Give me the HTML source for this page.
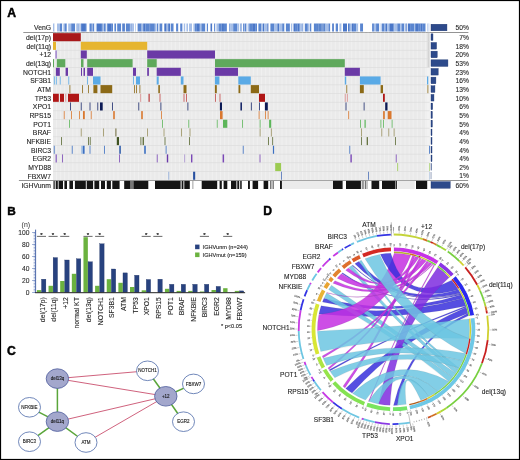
<!DOCTYPE html>
<html><head><meta charset="utf-8"><style>
html,body{margin:0;padding:0;background:#fff;}
svg{display:block;will-change:transform;}
text{font-family:"Liberation Sans", sans-serif;}
</style></head><body>
<svg width="520" height="460" viewBox="0 0 520 460">
<rect x="0" y="0" width="520" height="460" fill="#fff"/>
<text x="7.2" y="17" font-size="12.2" font-weight="bold" fill="#000" stroke="#000" stroke-width="0.45">A</text>
<rect x="53" y="23.5" width="1.65" height="8" fill="#a6bfe8"/>
<rect x="54.6" y="23.5" width="2.45" height="8" fill="#ffffff"/>
<rect x="57" y="23.5" width="3.05" height="8" fill="#a6bfe8"/>
<rect x="60" y="23.5" width="2.35" height="8" fill="#5a86d0"/>
<rect x="62.3" y="23.5" width="1.05" height="8" fill="#ffffff"/>
<rect x="63.3" y="23.5" width="1.25" height="8" fill="#a6bfe8"/>
<rect x="64.5" y="23.5" width="2.35" height="8" fill="#5a86d0"/>
<rect x="66.8" y="23.5" width="1.45" height="8" fill="#ffffff"/>
<rect x="68.2" y="23.5" width="3.05" height="8" fill="#a6bfe8"/>
<rect x="71.2" y="23.5" width="4.05" height="8" fill="#5a86d0"/>
<rect x="75.2" y="23.5" width="1.45" height="8" fill="#ffffff"/>
<rect x="76.6" y="23.5" width="0.95" height="8" fill="#5a86d0"/>
<rect x="77.5" y="23.5" width="1.25" height="8" fill="#a6bfe8"/>
<rect x="78.7" y="23.5" width="0.95" height="8" fill="#5a86d0"/>
<rect x="79.6" y="23.5" width="1.05" height="8" fill="#ffffff"/>
<rect x="80.6" y="23.5" width="1.35" height="8" fill="#5a86d0"/>
<rect x="81.9" y="23.5" width="4.05" height="8" fill="#4a77c8"/>
<rect x="85.9" y="23.5" width="1.25" height="8" fill="#a6bfe8"/>
<rect x="87.1" y="23.5" width="2.45" height="8" fill="#ffffff"/>
<rect x="89.5" y="23.5" width="2.35" height="8" fill="#5a86d0"/>
<rect x="91.8" y="23.5" width="0.85" height="8" fill="#a6bfe8"/>
<rect x="92.6" y="23.5" width="1.85" height="8" fill="#5a86d0"/>
<rect x="94.4" y="23.5" width="1.45" height="8" fill="#ffffff"/>
<rect x="95.8" y="23.5" width="1.25" height="8" fill="#a6bfe8"/>
<rect x="97" y="23.5" width="4.05" height="8" fill="#4a77c8"/>
<rect x="101" y="23.5" width="1.85" height="8" fill="#5a86d0"/>
<rect x="102.8" y="23.5" width="0.75" height="8" fill="#ffffff"/>
<rect x="103.5" y="23.5" width="2.35" height="8" fill="#5a86d0"/>
<rect x="105.8" y="23.5" width="1.05" height="8" fill="#ffffff"/>
<rect x="106.8" y="23.5" width="0.95" height="8" fill="#5a86d0"/>
<rect x="107.7" y="23.5" width="4.05" height="8" fill="#4a77c8"/>
<rect x="111.7" y="23.5" width="1.35" height="8" fill="#5a86d0"/>
<rect x="113" y="23.5" width="1.45" height="8" fill="#ffffff"/>
<rect x="114.4" y="23.5" width="1.85" height="8" fill="#5a86d0"/>
<rect x="116.2" y="23.5" width="1.05" height="8" fill="#ffffff"/>
<rect x="117.2" y="23.5" width="4.05" height="8" fill="#5a86d0"/>
<rect x="121.2" y="23.5" width="1.05" height="8" fill="#ffffff"/>
<rect x="122.2" y="23.5" width="0.95" height="8" fill="#5a86d0"/>
<rect x="123.1" y="23.5" width="1.85" height="8" fill="#4a77c8"/>
<rect x="124.9" y="23.5" width="1.05" height="8" fill="#ffffff"/>
<rect x="125.9" y="23.5" width="4.05" height="8" fill="#5a86d0"/>
<rect x="129.9" y="23.5" width="1.65" height="8" fill="#a6bfe8"/>
<rect x="131.5" y="23.5" width="0.95" height="8" fill="#5a86d0"/>
<rect x="132.4" y="23.5" width="1.65" height="8" fill="#a6bfe8"/>
<rect x="134" y="23.5" width="1.05" height="8" fill="#ffffff"/>
<rect x="135" y="23.5" width="0.85" height="8" fill="#a6bfe8"/>
<rect x="135.8" y="23.5" width="1.85" height="8" fill="#ffffff"/>
<rect x="137.6" y="23.5" width="4.05" height="8" fill="#5a86d0"/>
<rect x="141.6" y="23.5" width="1.65" height="8" fill="#a6bfe8"/>
<rect x="143.2" y="23.5" width="2.35" height="8" fill="#4a77c8"/>
<rect x="145.5" y="23.5" width="4.05" height="8" fill="#5a86d0"/>
<rect x="149.5" y="23.5" width="1.35" height="8" fill="#4a77c8"/>
<rect x="150.8" y="23.5" width="4.05" height="8" fill="#5a86d0"/>
<rect x="154.8" y="23.5" width="1.25" height="8" fill="#a6bfe8"/>
<rect x="156" y="23.5" width="0.75" height="8" fill="#ffffff"/>
<rect x="156.7" y="23.5" width="1.85" height="8" fill="#5a86d0"/>
<rect x="158.5" y="23.5" width="1.05" height="8" fill="#ffffff"/>
<rect x="159.5" y="23.5" width="3.05" height="8" fill="#5a86d0"/>
<rect x="162.5" y="23.5" width="1.85" height="8" fill="#ffffff"/>
<rect x="164.3" y="23.5" width="2.35" height="8" fill="#4a77c8"/>
<rect x="166.6" y="23.5" width="1.65" height="8" fill="#a6bfe8"/>
<rect x="168.2" y="23.5" width="1.85" height="8" fill="#4a77c8"/>
<rect x="170" y="23.5" width="0.75" height="8" fill="#ffffff"/>
<rect x="170.7" y="23.5" width="3.05" height="8" fill="#5a86d0"/>
<rect x="173.7" y="23.5" width="2.45" height="8" fill="#ffffff"/>
<rect x="176.1" y="23.5" width="2.35" height="8" fill="#5a86d0"/>
<rect x="178.4" y="23.5" width="1.85" height="8" fill="#ffffff"/>
<rect x="180.2" y="23.5" width="1.85" height="8" fill="#5a86d0"/>
<rect x="182" y="23.5" width="0.85" height="8" fill="#a6bfe8"/>
<rect x="182.8" y="23.5" width="1.05" height="8" fill="#ffffff"/>
<rect x="183.8" y="23.5" width="1.65" height="8" fill="#a6bfe8"/>
<rect x="185.4" y="23.5" width="1.05" height="8" fill="#ffffff"/>
<rect x="186.4" y="23.5" width="1.65" height="8" fill="#a6bfe8"/>
<rect x="188" y="23.5" width="1.05" height="8" fill="#ffffff"/>
<rect x="189" y="23.5" width="3.05" height="8" fill="#a6bfe8"/>
<rect x="192" y="23.5" width="1.45" height="8" fill="#ffffff"/>
<rect x="193.4" y="23.5" width="1.65" height="8" fill="#a6bfe8"/>
<rect x="195" y="23.5" width="1.85" height="8" fill="#5a86d0"/>
<rect x="196.8" y="23.5" width="3.05" height="8" fill="#4a77c8"/>
<rect x="199.8" y="23.5" width="1.65" height="8" fill="#a6bfe8"/>
<rect x="201.4" y="23.5" width="4.05" height="8" fill="#5a86d0"/>
<rect x="205.4" y="23.5" width="1.45" height="8" fill="#ffffff"/>
<rect x="206.8" y="23.5" width="1.35" height="8" fill="#5a86d0"/>
<rect x="208.1" y="23.5" width="2.45" height="8" fill="#ffffff"/>
<rect x="210.5" y="23.5" width="1.85" height="8" fill="#4a77c8"/>
<rect x="212.3" y="23.5" width="1.85" height="8" fill="#ffffff"/>
<rect x="214.1" y="23.5" width="1.35" height="8" fill="#5a86d0"/>
<rect x="215.4" y="23.5" width="1.05" height="8" fill="#ffffff"/>
<rect x="216.4" y="23.5" width="2.25" height="8" fill="#a6bfe8"/>
<rect x="218.6" y="23.5" width="3.05" height="8" fill="#5a86d0"/>
<rect x="221.6" y="23.5" width="2.35" height="8" fill="#4a77c8"/>
<rect x="223.9" y="23.5" width="3.05" height="8" fill="#5a86d0"/>
<rect x="226.9" y="23.5" width="2.45" height="8" fill="#ffffff"/>
<rect x="229.3" y="23.5" width="0.95" height="8" fill="#5a86d0"/>
<rect x="230.2" y="23.5" width="3.05" height="8" fill="#a6bfe8"/>
<rect x="233.2" y="23.5" width="4.05" height="8" fill="#5a86d0"/>
<rect x="237.2" y="23.5" width="2.25" height="8" fill="#a6bfe8"/>
<rect x="239.4" y="23.5" width="1.05" height="8" fill="#ffffff"/>
<rect x="240.4" y="23.5" width="1.35" height="8" fill="#5a86d0"/>
<rect x="241.7" y="23.5" width="1.45" height="8" fill="#ffffff"/>
<rect x="243.1" y="23.5" width="0.95" height="8" fill="#5a86d0"/>
<rect x="244" y="23.5" width="0.85" height="8" fill="#a6bfe8"/>
<rect x="244.8" y="23.5" width="1.85" height="8" fill="#5a86d0"/>
<rect x="246.6" y="23.5" width="1.05" height="8" fill="#ffffff"/>
<rect x="247.6" y="23.5" width="1.65" height="8" fill="#a6bfe8"/>
<rect x="249.2" y="23.5" width="3.05" height="8" fill="#5a86d0"/>
<rect x="252.2" y="23.5" width="3.05" height="8" fill="#4a77c8"/>
<rect x="255.2" y="23.5" width="1.85" height="8" fill="#5a86d0"/>
<rect x="257" y="23.5" width="1.45" height="8" fill="#ffffff"/>
<rect x="258.4" y="23.5" width="3.05" height="8" fill="#5a86d0"/>
<rect x="261.4" y="23.5" width="1.65" height="8" fill="#a6bfe8"/>
<rect x="263" y="23.5" width="1.35" height="8" fill="#4a77c8"/>
<rect x="264.3" y="23.5" width="3.05" height="8" fill="#a6bfe8"/>
<rect x="267.3" y="23.5" width="1.35" height="8" fill="#4a77c8"/>
<rect x="268.6" y="23.5" width="1.85" height="8" fill="#ffffff"/>
<rect x="270.4" y="23.5" width="4.05" height="8" fill="#5a86d0"/>
<rect x="274.4" y="23.5" width="3.05" height="8" fill="#a6bfe8"/>
<rect x="277.4" y="23.5" width="1.85" height="8" fill="#4a77c8"/>
<rect x="279.2" y="23.5" width="3.05" height="8" fill="#a6bfe8"/>
<rect x="282.2" y="23.5" width="2.35" height="8" fill="#5a86d0"/>
<rect x="284.5" y="23.5" width="1.45" height="8" fill="#ffffff"/>
<rect x="285.9" y="23.5" width="4.05" height="8" fill="#5a86d0"/>
<rect x="289.9" y="23.5" width="1.05" height="8" fill="#ffffff"/>
<rect x="290.9" y="23.5" width="1.65" height="8" fill="#a6bfe8"/>
<rect x="292.5" y="23.5" width="1.05" height="8" fill="#ffffff"/>
<rect x="293.5" y="23.5" width="2.35" height="8" fill="#4a77c8"/>
<rect x="295.8" y="23.5" width="1.85" height="8" fill="#5a86d0"/>
<rect x="297.6" y="23.5" width="1.85" height="8" fill="#4a77c8"/>
<rect x="299.4" y="23.5" width="0.95" height="8" fill="#5a86d0"/>
<rect x="300.3" y="23.5" width="2.25" height="8" fill="#a6bfe8"/>
<rect x="302.5" y="23.5" width="0.95" height="8" fill="#5a86d0"/>
<rect x="303.4" y="23.5" width="1.45" height="8" fill="#ffffff"/>
<rect x="304.8" y="23.5" width="3.05" height="8" fill="#5a86d0"/>
<rect x="307.8" y="23.5" width="1.25" height="8" fill="#a6bfe8"/>
<rect x="309" y="23.5" width="0.75" height="8" fill="#ffffff"/>
<rect x="309.7" y="23.5" width="1.85" height="8" fill="#5a86d0"/>
<rect x="311.5" y="23.5" width="2.45" height="8" fill="#ffffff"/>
<rect x="313.9" y="23.5" width="3.05" height="8" fill="#5a86d0"/>
<rect x="316.9" y="23.5" width="1.85" height="8" fill="#5a85cc"/>
<rect x="318.7" y="23.5" width="3.05" height="8" fill="#5a85cc"/>
<rect x="321.7" y="23.5" width="0.75" height="8" fill="#5a85cc"/>
<rect x="322.4" y="23.5" width="1.35" height="8" fill="#5a85cc"/>
<rect x="323.7" y="23.5" width="1.85" height="8" fill="#5a85cc"/>
<rect x="325.5" y="23.5" width="3.05" height="8" fill="#a6bfe8"/>
<rect x="328.5" y="23.5" width="1.85" height="8" fill="#5a86d0"/>
<rect x="330.3" y="23.5" width="1.85" height="8" fill="#ffffff"/>
<rect x="332.1" y="23.5" width="0.95" height="8" fill="#5a86d0"/>
<rect x="333" y="23.5" width="0.95" height="8" fill="#4a77c8"/>
<rect x="333.9" y="23.5" width="1.85" height="8" fill="#ffffff"/>
<rect x="335.7" y="23.5" width="2.35" height="8" fill="#5a86d0"/>
<rect x="338" y="23.5" width="1.45" height="8" fill="#ffffff"/>
<rect x="339.4" y="23.5" width="2.25" height="8" fill="#a6bfe8"/>
<rect x="341.6" y="23.5" width="1.45" height="8" fill="#ffffff"/>
<rect x="343" y="23.5" width="4.05" height="8" fill="#4a77c8"/>
<rect x="347" y="23.5" width="1.05" height="8" fill="#ffffff"/>
<rect x="348" y="23.5" width="0.95" height="8" fill="#4a77c8"/>
<rect x="348.9" y="23.5" width="0.95" height="8" fill="#5a86d0"/>
<rect x="349.8" y="23.5" width="2.25" height="8" fill="#a6bfe8"/>
<rect x="352" y="23.5" width="1.85" height="8" fill="#4a77c8"/>
<rect x="353.8" y="23.5" width="2.35" height="8" fill="#5a86d0"/>
<rect x="356.1" y="23.5" width="2.25" height="8" fill="#a6bfe8"/>
<rect x="358.3" y="23.5" width="1.85" height="8" fill="#ffffff"/>
<rect x="360.1" y="23.5" width="3.05" height="8" fill="#5a86d0"/>
<rect x="363.1" y="23.5" width="0.85" height="8" fill="#ffffff"/>
<rect x="363.9" y="23.5" width="1.35" height="8" fill="#ffffff"/>
<rect x="365.2" y="23.5" width="1.05" height="8" fill="#ffffff"/>
<rect x="366.2" y="23.5" width="0.85" height="8" fill="#ffffff"/>
<rect x="367" y="23.5" width="2.45" height="8" fill="#ffffff"/>
<rect x="369.4" y="23.5" width="0.95" height="8" fill="#ffffff"/>
<rect x="370.3" y="23.5" width="1.05" height="8" fill="#ffffff"/>
<rect x="371.3" y="23.5" width="0.85" height="8" fill="#ffffff"/>
<rect x="372.1" y="23.5" width="1.85" height="8" fill="#5a86d0"/>
<rect x="373.9" y="23.5" width="2.25" height="8" fill="#a6bfe8"/>
<rect x="376.1" y="23.5" width="3.05" height="8" fill="#5a86d0"/>
<rect x="379.1" y="23.5" width="0.75" height="8" fill="#ffffff"/>
<rect x="379.8" y="23.5" width="0.85" height="8" fill="#a6bfe8"/>
<rect x="380.6" y="23.5" width="1.05" height="8" fill="#ffffff"/>
<rect x="381.6" y="23.5" width="3.05" height="8" fill="#5a86d0"/>
<rect x="384.6" y="23.5" width="0.85" height="8" fill="#a6bfe8"/>
<rect x="385.4" y="23.5" width="1.85" height="8" fill="#4a77c8"/>
<rect x="387.2" y="23.5" width="2.25" height="8" fill="#a6bfe8"/>
<rect x="389.4" y="23.5" width="4.05" height="8" fill="#4a77c8"/>
<rect x="393.4" y="23.5" width="0.95" height="8" fill="#5a86d0"/>
<rect x="394.3" y="23.5" width="3.05" height="8" fill="#a6bfe8"/>
<rect x="397.3" y="23.5" width="3.05" height="8" fill="#5a86d0"/>
<rect x="400.3" y="23.5" width="1.25" height="8" fill="#a6bfe8"/>
<rect x="401.5" y="23.5" width="3.05" height="8" fill="#5a86d0"/>
<rect x="404.5" y="23.5" width="1.05" height="8" fill="#ffffff"/>
<rect x="405.5" y="23.5" width="1.35" height="8" fill="#4a77c8"/>
<rect x="406.8" y="23.5" width="1.05" height="8" fill="#ffffff"/>
<rect x="407.8" y="23.5" width="2.35" height="8" fill="#4a77c8"/>
<rect x="410.1" y="23.5" width="4.05" height="8" fill="#5a86d0"/>
<rect x="414.1" y="23.5" width="0.85" height="8" fill="#a6bfe8"/>
<rect x="414.9" y="23.5" width="0.95" height="8" fill="#5a86d0"/>
<rect x="415.8" y="23.5" width="2.35" height="8" fill="#4a77c8"/>
<rect x="418.1" y="23.5" width="2.35" height="8" fill="#5a86d0"/>
<rect x="420.4" y="23.5" width="1.85" height="8" fill="#4a77c8"/>
<rect x="422.2" y="23.5" width="3.05" height="8" fill="#5a86d0"/>
<rect x="425.2" y="23.5" width="0.85" height="8" fill="#a6bfe8"/>
<rect x="426" y="23.5" width="1.45" height="8" fill="#ffffff"/>
<rect x="427.4" y="23.5" width="1.25" height="8" fill="#a6bfe8"/>
<rect x="428.6" y="23.5" width="0.75" height="8" fill="#ffffff"/>
<rect x="429.3" y="23.5" width="0.25" height="8" fill="#a6bfe8"/>
<rect x="23.3" y="32.0" width="445.1" height="0.7" fill="#666"/>
<rect x="53.0" y="32.8" width="376.5" height="147.22" fill="#eaeaea"/>
<rect x="56" y="32.8" width="1.0" height="147.22" fill="#f0f0f0"/>
<rect x="60.1" y="32.8" width="1.0" height="147.22" fill="#f0f0f0"/>
<rect x="64.2" y="32.8" width="1.0" height="147.22" fill="#f0f0f0"/>
<rect x="68.3" y="32.8" width="1.0" height="147.22" fill="#f0f0f0"/>
<rect x="72.4" y="32.8" width="1.0" height="147.22" fill="#f0f0f0"/>
<rect x="76.5" y="32.8" width="1.0" height="147.22" fill="#f0f0f0"/>
<rect x="80.6" y="32.8" width="1.0" height="147.22" fill="#f0f0f0"/>
<rect x="84.7" y="32.8" width="1.0" height="147.22" fill="#f0f0f0"/>
<rect x="88.8" y="32.8" width="1.0" height="147.22" fill="#f0f0f0"/>
<rect x="92.9" y="32.8" width="1.0" height="147.22" fill="#f0f0f0"/>
<rect x="97" y="32.8" width="1.0" height="147.22" fill="#f0f0f0"/>
<rect x="101.1" y="32.8" width="1.0" height="147.22" fill="#f0f0f0"/>
<rect x="105.2" y="32.8" width="1.0" height="147.22" fill="#f0f0f0"/>
<rect x="109.3" y="32.8" width="1.0" height="147.22" fill="#f0f0f0"/>
<rect x="113.4" y="32.8" width="1.0" height="147.22" fill="#f0f0f0"/>
<rect x="117.5" y="32.8" width="1.0" height="147.22" fill="#f0f0f0"/>
<rect x="121.6" y="32.8" width="1.0" height="147.22" fill="#f0f0f0"/>
<rect x="125.7" y="32.8" width="1.0" height="147.22" fill="#f0f0f0"/>
<rect x="129.8" y="32.8" width="1.0" height="147.22" fill="#f0f0f0"/>
<rect x="133.9" y="32.8" width="1.0" height="147.22" fill="#f0f0f0"/>
<rect x="138" y="32.8" width="1.0" height="147.22" fill="#f0f0f0"/>
<rect x="142.1" y="32.8" width="1.0" height="147.22" fill="#f0f0f0"/>
<rect x="146.2" y="32.8" width="1.0" height="147.22" fill="#f0f0f0"/>
<rect x="150.3" y="32.8" width="1.0" height="147.22" fill="#f0f0f0"/>
<rect x="154.4" y="32.8" width="1.0" height="147.22" fill="#f0f0f0"/>
<rect x="158.5" y="32.8" width="1.0" height="147.22" fill="#f0f0f0"/>
<rect x="162.6" y="32.8" width="1.0" height="147.22" fill="#f0f0f0"/>
<rect x="166.7" y="32.8" width="1.0" height="147.22" fill="#f0f0f0"/>
<rect x="170.8" y="32.8" width="1.0" height="147.22" fill="#f0f0f0"/>
<rect x="174.9" y="32.8" width="1.0" height="147.22" fill="#f0f0f0"/>
<rect x="179" y="32.8" width="1.0" height="147.22" fill="#f0f0f0"/>
<rect x="183.1" y="32.8" width="1.0" height="147.22" fill="#f0f0f0"/>
<rect x="187.2" y="32.8" width="1.0" height="147.22" fill="#f0f0f0"/>
<rect x="191.3" y="32.8" width="1.0" height="147.22" fill="#f0f0f0"/>
<rect x="195.4" y="32.8" width="1.0" height="147.22" fill="#f0f0f0"/>
<rect x="199.5" y="32.8" width="1.0" height="147.22" fill="#f0f0f0"/>
<rect x="203.6" y="32.8" width="1.0" height="147.22" fill="#f0f0f0"/>
<rect x="207.7" y="32.8" width="1.0" height="147.22" fill="#f0f0f0"/>
<rect x="211.8" y="32.8" width="1.0" height="147.22" fill="#f0f0f0"/>
<rect x="215.9" y="32.8" width="1.0" height="147.22" fill="#f0f0f0"/>
<rect x="220" y="32.8" width="1.0" height="147.22" fill="#f0f0f0"/>
<rect x="224.1" y="32.8" width="1.0" height="147.22" fill="#f0f0f0"/>
<rect x="228.2" y="32.8" width="1.0" height="147.22" fill="#f0f0f0"/>
<rect x="232.3" y="32.8" width="1.0" height="147.22" fill="#f0f0f0"/>
<rect x="236.4" y="32.8" width="1.0" height="147.22" fill="#f0f0f0"/>
<rect x="240.5" y="32.8" width="1.0" height="147.22" fill="#f0f0f0"/>
<rect x="244.6" y="32.8" width="1.0" height="147.22" fill="#f0f0f0"/>
<rect x="248.7" y="32.8" width="1.0" height="147.22" fill="#f0f0f0"/>
<rect x="252.8" y="32.8" width="1.0" height="147.22" fill="#f0f0f0"/>
<rect x="256.9" y="32.8" width="1.0" height="147.22" fill="#f0f0f0"/>
<rect x="261" y="32.8" width="1.0" height="147.22" fill="#f0f0f0"/>
<rect x="265.1" y="32.8" width="1.0" height="147.22" fill="#f0f0f0"/>
<rect x="269.2" y="32.8" width="1.0" height="147.22" fill="#f0f0f0"/>
<rect x="273.3" y="32.8" width="1.0" height="147.22" fill="#f0f0f0"/>
<rect x="277.4" y="32.8" width="1.0" height="147.22" fill="#f0f0f0"/>
<rect x="281.5" y="32.8" width="1.0" height="147.22" fill="#f0f0f0"/>
<rect x="285.6" y="32.8" width="1.0" height="147.22" fill="#f0f0f0"/>
<rect x="289.7" y="32.8" width="1.0" height="147.22" fill="#f0f0f0"/>
<rect x="293.8" y="32.8" width="1.0" height="147.22" fill="#f0f0f0"/>
<rect x="297.9" y="32.8" width="1.0" height="147.22" fill="#f0f0f0"/>
<rect x="302" y="32.8" width="1.0" height="147.22" fill="#f0f0f0"/>
<rect x="306.1" y="32.8" width="1.0" height="147.22" fill="#f0f0f0"/>
<rect x="310.2" y="32.8" width="1.0" height="147.22" fill="#f0f0f0"/>
<rect x="314.3" y="32.8" width="1.0" height="147.22" fill="#f0f0f0"/>
<rect x="318.4" y="32.8" width="1.0" height="147.22" fill="#f0f0f0"/>
<rect x="322.5" y="32.8" width="1.0" height="147.22" fill="#f0f0f0"/>
<rect x="326.6" y="32.8" width="1.0" height="147.22" fill="#f0f0f0"/>
<rect x="330.7" y="32.8" width="1.0" height="147.22" fill="#f0f0f0"/>
<rect x="334.8" y="32.8" width="1.0" height="147.22" fill="#f0f0f0"/>
<rect x="338.9" y="32.8" width="1.0" height="147.22" fill="#f0f0f0"/>
<rect x="343" y="32.8" width="1.0" height="147.22" fill="#f0f0f0"/>
<rect x="347.1" y="32.8" width="1.0" height="147.22" fill="#f0f0f0"/>
<rect x="351.2" y="32.8" width="1.0" height="147.22" fill="#f0f0f0"/>
<rect x="355.3" y="32.8" width="1.0" height="147.22" fill="#f0f0f0"/>
<rect x="359.4" y="32.8" width="1.0" height="147.22" fill="#f0f0f0"/>
<rect x="363.5" y="32.8" width="1.0" height="147.22" fill="#f0f0f0"/>
<rect x="367.6" y="32.8" width="1.0" height="147.22" fill="#f0f0f0"/>
<rect x="371.7" y="32.8" width="1.0" height="147.22" fill="#f0f0f0"/>
<rect x="375.8" y="32.8" width="1.0" height="147.22" fill="#f0f0f0"/>
<rect x="379.9" y="32.8" width="1.0" height="147.22" fill="#f0f0f0"/>
<rect x="384" y="32.8" width="1.0" height="147.22" fill="#f0f0f0"/>
<rect x="388.1" y="32.8" width="1.0" height="147.22" fill="#f0f0f0"/>
<rect x="392.2" y="32.8" width="1.0" height="147.22" fill="#f0f0f0"/>
<rect x="396.3" y="32.8" width="1.0" height="147.22" fill="#f0f0f0"/>
<rect x="400.4" y="32.8" width="1.0" height="147.22" fill="#f0f0f0"/>
<rect x="404.5" y="32.8" width="1.0" height="147.22" fill="#f0f0f0"/>
<rect x="408.6" y="32.8" width="1.0" height="147.22" fill="#f0f0f0"/>
<rect x="412.7" y="32.8" width="1.0" height="147.22" fill="#f0f0f0"/>
<rect x="416.8" y="32.8" width="1.0" height="147.22" fill="#f0f0f0"/>
<rect x="420.9" y="32.8" width="1.0" height="147.22" fill="#f0f0f0"/>
<rect x="425" y="32.8" width="1.0" height="147.22" fill="#f0f0f0"/>
<rect x="429.1" y="32.8" width="1.0" height="147.22" fill="#f0f0f0"/>
<rect x="427.6" y="32.8" width="1.9" height="34.64" fill="#d4d4d4"/>
<rect x="426.4" y="67.44" width="3.1" height="112.58" fill="#f2f2f2"/>
<rect x="53.0" y="41.26" width="376.5" height="0.6" fill="#dadada"/>
<rect x="53.0" y="49.92" width="376.5" height="0.6" fill="#dadada"/>
<rect x="53.0" y="58.58" width="376.5" height="0.6" fill="#dadada"/>
<rect x="53.0" y="67.24" width="376.5" height="0.6" fill="#dadada"/>
<rect x="53.0" y="75.9" width="376.5" height="0.6" fill="#dadada"/>
<rect x="53.0" y="84.56" width="376.5" height="0.6" fill="#dadada"/>
<rect x="53.0" y="93.22" width="376.5" height="0.6" fill="#dadada"/>
<rect x="53.0" y="101.88" width="376.5" height="0.6" fill="#dadada"/>
<rect x="53.0" y="110.54" width="376.5" height="0.6" fill="#dadada"/>
<rect x="53.0" y="119.2" width="376.5" height="0.6" fill="#dadada"/>
<rect x="53.0" y="127.86" width="376.5" height="0.6" fill="#dadada"/>
<rect x="53.0" y="136.52" width="376.5" height="0.6" fill="#dadada"/>
<rect x="53.0" y="145.18" width="376.5" height="0.6" fill="#dadada"/>
<rect x="53.0" y="153.84" width="376.5" height="0.6" fill="#dadada"/>
<rect x="53.0" y="162.5" width="376.5" height="0.6" fill="#dadada"/>
<rect x="53.0" y="171.16" width="376.5" height="0.6" fill="#dadada"/>
<rect x="53" y="50.12" width="2.2" height="8.66" fill="#fff"/>
<rect x="259.6" y="102.08" width="5.2" height="8.66" fill="#fff"/>
<rect x="53" y="33.15" width="27.8" height="8.06" fill="#a8191b"/>
<rect x="53" y="41.81" width="3" height="8.06" fill="#e6b52f"/>
<rect x="80.8" y="41.81" width="66.4" height="8.06" fill="#e6b52f"/>
<rect x="55.4" y="50.47" width="1.4" height="8.06" fill="#9a7acb"/>
<rect x="80.8" y="50.47" width="6" height="8.06" fill="#6b3aa6"/>
<rect x="147.2" y="50.47" width="67.8" height="8.06" fill="#6b3aa6"/>
<rect x="53" y="59.13" width="1" height="8.06" fill="#5fa95c"/>
<rect x="56.8" y="59.13" width="8.5" height="8.06" fill="#5fa95c"/>
<rect x="81" y="59.13" width="2.5" height="8.06" fill="#5fa95c"/>
<rect x="87.2" y="59.13" width="45.4" height="8.06" fill="#5fa95c"/>
<rect x="147.2" y="59.13" width="9.5" height="8.06" fill="#5fa95c"/>
<rect x="215" y="59.13" width="129.8" height="8.06" fill="#5fa95c"/>
<rect x="55.9" y="67.79" width="3.9" height="8.06" fill="#6b3aa6"/>
<rect x="65.6" y="67.79" width="2.4" height="8.06" fill="#6b3aa6"/>
<rect x="81" y="67.79" width="1" height="8.06" fill="#6b3aa6"/>
<rect x="83.5" y="67.79" width="1.5" height="8.06" fill="#6b3aa6"/>
<rect x="87.2" y="67.79" width="5.8" height="8.06" fill="#6b3aa6"/>
<rect x="133" y="67.79" width="3" height="8.06" fill="#6b3aa6"/>
<rect x="147.2" y="67.79" width="1.7" height="8.06" fill="#6b3aa6"/>
<rect x="156.7" y="67.79" width="24.1" height="8.06" fill="#6b3aa6"/>
<rect x="214.9" y="67.79" width="23.1" height="8.06" fill="#6b3aa6"/>
<rect x="344.8" y="67.79" width="15.1" height="8.06" fill="#6b3aa6"/>
<rect x="53.9" y="76.45" width="0.8" height="8.06" fill="#5aaae6"/>
<rect x="55.9" y="76.45" width="0.8" height="8.06" fill="#5aaae6"/>
<rect x="59.8" y="76.45" width="0.8" height="8.06" fill="#5aaae6"/>
<rect x="68.4" y="76.45" width="0.8" height="8.06" fill="#5aaae6"/>
<rect x="87.2" y="76.45" width="0.8" height="8.06" fill="#5aaae6"/>
<rect x="133.2" y="76.45" width="0.8" height="8.06" fill="#5aaae6"/>
<rect x="93" y="76.45" width="7.5" height="8.06" fill="#5aaae6"/>
<rect x="136" y="76.45" width="4" height="8.06" fill="#5aaae6"/>
<rect x="156.7" y="76.45" width="2" height="8.06" fill="#5aaae6"/>
<rect x="180.8" y="76.45" width="2.7" height="8.06" fill="#5aaae6"/>
<rect x="214.9" y="76.45" width="4.5" height="8.06" fill="#5aaae6"/>
<rect x="238.3" y="76.45" width="12.5" height="8.06" fill="#5aaae6"/>
<rect x="344.8" y="76.45" width="1.4" height="8.06" fill="#5aaae6"/>
<rect x="359.9" y="76.45" width="20.7" height="8.06" fill="#5aaae6"/>
<rect x="427" y="76.45" width="1.3" height="8.06" fill="#5aaae6"/>
<rect x="69.5" y="85.11" width="0.8" height="8.06" fill="#8c6a17"/>
<rect x="82.2" y="85.11" width="0.8" height="8.06" fill="#8c6a17"/>
<rect x="88.1" y="85.11" width="0.8" height="8.06" fill="#8c6a17"/>
<rect x="134" y="85.11" width="0.8" height="8.06" fill="#8c6a17"/>
<rect x="136" y="85.11" width="0.8" height="8.06" fill="#8c6a17"/>
<rect x="139.5" y="85.11" width="0.8" height="8.06" fill="#8c6a17"/>
<rect x="346.4" y="85.11" width="0.8" height="8.06" fill="#8c6a17"/>
<rect x="427.5" y="85.11" width="0.8" height="8.06" fill="#8c6a17"/>
<rect x="93.4" y="85.11" width="4" height="8.06" fill="#8c6a17"/>
<rect x="100.5" y="85.11" width="11.7" height="8.06" fill="#8c6a17"/>
<rect x="158.3" y="85.11" width="1.6" height="8.06" fill="#8c6a17"/>
<rect x="183.5" y="85.11" width="3" height="8.06" fill="#8c6a17"/>
<rect x="214.9" y="85.11" width="1.9" height="8.06" fill="#8c6a17"/>
<rect x="238.5" y="85.11" width="1.8" height="8.06" fill="#8c6a17"/>
<rect x="250.8" y="85.11" width="8.2" height="8.06" fill="#8c6a17"/>
<rect x="359.9" y="85.11" width="3.9" height="8.06" fill="#8c6a17"/>
<rect x="380.6" y="85.11" width="2.4" height="8.06" fill="#8c6a17"/>
<rect x="53" y="93.77" width="5.8" height="8.06" fill="#b01616"/>
<rect x="60" y="93.77" width="4" height="8.06" fill="#b01616"/>
<rect x="65.4" y="93.77" width="0.8" height="8.06" fill="#d98a8a"/>
<rect x="68" y="93.77" width="11" height="8.06" fill="#b01616"/>
<rect x="140.3" y="93.77" width="0.8" height="8.06" fill="#d98a8a"/>
<rect x="148.6" y="93.77" width="1" height="8.06" fill="#b01616"/>
<rect x="159.6" y="93.77" width="0.8" height="8.06" fill="#c04848"/>
<rect x="183.6" y="93.77" width="0.8" height="8.06" fill="#c04848"/>
<rect x="186.2" y="93.77" width="0.8" height="8.06" fill="#c04848"/>
<rect x="215.1" y="93.77" width="0.8" height="8.06" fill="#c04848"/>
<rect x="219.6" y="93.77" width="0.8" height="8.06" fill="#c04848"/>
<rect x="259" y="93.77" width="6" height="8.06" fill="#b01616"/>
<rect x="344.8" y="93.77" width="0.8" height="8.06" fill="#d98a8a"/>
<rect x="346.9" y="93.77" width="0.8" height="8.06" fill="#d98a8a"/>
<rect x="383" y="93.77" width="1.8" height="8.06" fill="#b01616"/>
<rect x="70.1" y="102.43" width="0.8" height="8.06" fill="#1b2a6b"/>
<rect x="80.8" y="102.43" width="0.8" height="8.06" fill="#1b2a6b"/>
<rect x="89.6" y="102.43" width="0.8" height="8.06" fill="#1b2a6b"/>
<rect x="97.4" y="102.43" width="0.8" height="8.06" fill="#1b2a6b"/>
<rect x="112.1" y="102.43" width="0.8" height="8.06" fill="#1b2a6b"/>
<rect x="138.4" y="102.43" width="0.8" height="8.06" fill="#1b2a6b"/>
<rect x="160.5" y="102.43" width="0.8" height="8.06" fill="#1b2a6b"/>
<rect x="187.5" y="102.43" width="0.8" height="8.06" fill="#1b2a6b"/>
<rect x="250.9" y="102.43" width="0.8" height="8.06" fill="#1b2a6b"/>
<rect x="259.1" y="102.43" width="0.8" height="8.06" fill="#1b2a6b"/>
<rect x="345.6" y="102.43" width="0.8" height="8.06" fill="#1b2a6b"/>
<rect x="363.7" y="102.43" width="0.8" height="8.06" fill="#1b2a6b"/>
<rect x="100" y="102.43" width="2.7" height="8.06" fill="#0c1a55"/>
<rect x="219.9" y="102.43" width="2.1" height="8.06" fill="#0c1a55"/>
<rect x="240.4" y="102.43" width="1.6" height="8.06" fill="#1b2a6b"/>
<rect x="264.9" y="102.43" width="2.9" height="8.06" fill="#0c1a55"/>
<rect x="385.2" y="102.43" width="2.3" height="8.06" fill="#0c1a55"/>
<rect x="63.8" y="111.09" width="0.8" height="8.06" fill="#d9782f"/>
<rect x="71.2" y="111.09" width="0.8" height="8.06" fill="#d9782f"/>
<rect x="79.2" y="111.09" width="0.8" height="8.06" fill="#d9782f"/>
<rect x="90.8" y="111.09" width="0.8" height="8.06" fill="#d9782f"/>
<rect x="161.2" y="111.09" width="0.8" height="8.06" fill="#d9782f"/>
<rect x="258.7" y="111.09" width="0.8" height="8.06" fill="#d9782f"/>
<rect x="265" y="111.09" width="0.8" height="8.06" fill="#d9782f"/>
<rect x="267.7" y="111.09" width="0.8" height="8.06" fill="#d9782f"/>
<rect x="348.3" y="111.09" width="0.8" height="8.06" fill="#d9782f"/>
<rect x="83" y="111.09" width="1.8" height="8.06" fill="#d9782f"/>
<rect x="113.2" y="111.09" width="1.6" height="8.06" fill="#d9782f"/>
<rect x="141.2" y="111.09" width="1.6" height="8.06" fill="#d9782f"/>
<rect x="220" y="111.09" width="2.6" height="8.06" fill="#d9782f"/>
<rect x="383.1" y="111.09" width="1.7" height="8.06" fill="#d9782f"/>
<rect x="387.7" y="111.09" width="3.8" height="8.06" fill="#d9782f"/>
<rect x="69" y="119.75" width="0.8" height="8.06" fill="#5db65a"/>
<rect x="162.2" y="119.75" width="0.8" height="8.06" fill="#5db65a"/>
<rect x="188.4" y="119.75" width="0.8" height="8.06" fill="#5db65a"/>
<rect x="216.8" y="119.75" width="0.8" height="8.06" fill="#5db65a"/>
<rect x="242.1" y="119.75" width="0.8" height="8.06" fill="#5db65a"/>
<rect x="259.7" y="119.75" width="0.8" height="8.06" fill="#5db65a"/>
<rect x="360" y="119.75" width="0.8" height="8.06" fill="#5db65a"/>
<rect x="380.5" y="119.75" width="0.8" height="8.06" fill="#5db65a"/>
<rect x="383.1" y="119.75" width="0.8" height="8.06" fill="#5db65a"/>
<rect x="391.7" y="119.75" width="0.8" height="8.06" fill="#5db65a"/>
<rect x="223" y="119.75" width="4.3" height="8.06" fill="#5db65a"/>
<rect x="269.1" y="119.75" width="2.1" height="8.06" fill="#5db65a"/>
<rect x="364.5" y="119.75" width="1.2" height="8.06" fill="#5db65a"/>
<rect x="80.8" y="128.41" width="0.8" height="8.06" fill="#9a9160"/>
<rect x="103" y="128.41" width="0.8" height="8.06" fill="#9a9160"/>
<rect x="147.1" y="128.41" width="0.8" height="8.06" fill="#9a9160"/>
<rect x="163.6" y="128.41" width="0.8" height="8.06" fill="#9a9160"/>
<rect x="181" y="128.41" width="0.8" height="8.06" fill="#9a9160"/>
<rect x="189.6" y="128.41" width="0.8" height="8.06" fill="#9a9160"/>
<rect x="259.7" y="128.41" width="0.8" height="8.06" fill="#9a9160"/>
<rect x="270.9" y="128.41" width="0.8" height="8.06" fill="#9a9160"/>
<rect x="361" y="128.41" width="0.8" height="8.06" fill="#9a9160"/>
<rect x="381.4" y="128.41" width="0.8" height="8.06" fill="#9a9160"/>
<rect x="388.4" y="128.41" width="0.8" height="8.06" fill="#9a9160"/>
<rect x="393.7" y="128.41" width="0.8" height="8.06" fill="#9a9160"/>
<rect x="115.4" y="128.41" width="1" height="8.06" fill="#6f6a3a"/>
<rect x="61" y="137.07" width="0.8" height="8.06" fill="#5a6932"/>
<rect x="88.2" y="137.07" width="0.8" height="8.06" fill="#5a6932"/>
<rect x="89.8" y="137.07" width="0.8" height="8.06" fill="#5a6932"/>
<rect x="140.5" y="137.07" width="0.8" height="8.06" fill="#5a6932"/>
<rect x="164.6" y="137.07" width="0.8" height="8.06" fill="#5a6932"/>
<rect x="189" y="137.07" width="0.8" height="8.06" fill="#5a6932"/>
<rect x="268.2" y="137.07" width="0.8" height="8.06" fill="#5a6932"/>
<rect x="272.3" y="137.07" width="0.8" height="8.06" fill="#5a6932"/>
<rect x="361" y="137.07" width="0.8" height="8.06" fill="#5a6932"/>
<rect x="395.1" y="137.07" width="0.8" height="8.06" fill="#5a6932"/>
<rect x="116.8" y="137.07" width="2.2" height="8.06" fill="#3f5220"/>
<rect x="142.6" y="137.07" width="1.3" height="8.06" fill="#5a6932"/>
<rect x="366.7" y="137.07" width="1.2" height="8.06" fill="#5a6932"/>
<rect x="53.8" y="145.73" width="0.8" height="8.06" fill="#3c70c2"/>
<rect x="71.8" y="145.73" width="0.8" height="8.06" fill="#3c70c2"/>
<rect x="89.6" y="145.73" width="0.8" height="8.06" fill="#3c70c2"/>
<rect x="104" y="145.73" width="0.8" height="8.06" fill="#3c70c2"/>
<rect x="165.7" y="145.73" width="0.8" height="8.06" fill="#3c70c2"/>
<rect x="242.8" y="145.73" width="0.8" height="8.06" fill="#3c70c2"/>
<rect x="349.4" y="145.73" width="0.8" height="8.06" fill="#3c70c2"/>
<rect x="429" y="145.73" width="0.8" height="8.06" fill="#3c70c2"/>
<rect x="81.4" y="145.73" width="1.4" height="8.06" fill="#8ab0e0"/>
<rect x="83" y="145.73" width="1.6" height="8.06" fill="#3c70c2"/>
<rect x="119.3" y="145.73" width="1.5" height="8.06" fill="#2858a8"/>
<rect x="144.2" y="145.73" width="1.6" height="8.06" fill="#3c70c2"/>
<rect x="272.9" y="145.73" width="1.2" height="8.06" fill="#3c70c2"/>
<rect x="62" y="154.39" width="0.8" height="8.06" fill="#7a48b6"/>
<rect x="119" y="154.39" width="0.8" height="8.06" fill="#7a48b6"/>
<rect x="156.8" y="154.39" width="0.8" height="8.06" fill="#7a48b6"/>
<rect x="259.6" y="154.39" width="0.8" height="8.06" fill="#7a48b6"/>
<rect x="395.8" y="154.39" width="0.8" height="8.06" fill="#7a48b6"/>
<rect x="55.5" y="154.39" width="1.5" height="8.06" fill="#9a78c8"/>
<rect x="166.8" y="154.39" width="1.4" height="8.06" fill="#6a38a8"/>
<rect x="184.3" y="154.39" width="0.8" height="8.06" fill="#a890d0"/>
<rect x="191" y="154.39" width="1.4" height="8.06" fill="#7a48b6"/>
<rect x="222.6" y="154.39" width="1.5" height="8.06" fill="#7a48b6"/>
<rect x="350.4" y="154.39" width="1.4" height="8.06" fill="#7a48b6"/>
<rect x="275.2" y="163.05" width="5.9" height="8.06" fill="#9ccb52"/>
<rect x="397.3" y="163.05" width="0.8" height="8.06" fill="#9ccb52"/>
<rect x="429" y="163.05" width="0.6" height="8.06" fill="#9ccb52"/>
<rect x="168.4" y="171.71" width="0.8" height="8.06" fill="#8aa8d8"/>
<rect x="193.1" y="171.71" width="2.1" height="8.06" fill="#2850a0"/>
<rect x="281.2" y="171.71" width="0.8" height="8.06" fill="#4a6fb6"/>
<rect x="368" y="171.71" width="0.8" height="8.06" fill="#4a6fb6"/>
<rect x="429.2" y="171.71" width="0.6" height="8.06" fill="#a8c0e0"/>
<rect x="18.9" y="180.1" width="449.2" height="0.7" fill="#666"/>
<rect x="53.0" y="180.9" width="376.5" height="8.1" fill="#fff"/>
<rect x="282" y="180.9" width="51" height="8.1" fill="#ebebeb"/>
<rect x="397.4" y="180.9" width="17.3" height="8.1" fill="#ebebeb"/>
<rect x="53.5" y="180.9" width="1.2" height="8.1" fill="#151515"/>
<rect x="55.7" y="180.9" width="2.1" height="8.1" fill="#151515"/>
<rect x="58.6" y="180.9" width="4.4" height="8.1" fill="#151515"/>
<rect x="64.4" y="180.9" width="2.6" height="8.1" fill="#151515"/>
<rect x="69.4" y="180.9" width="3.6" height="8.1" fill="#151515"/>
<rect x="74.9" y="180.9" width="10.9" height="8.1" fill="#151515"/>
<rect x="86.7" y="180.9" width="6.4" height="8.1" fill="#151515"/>
<rect x="94.4" y="180.9" width="4.8" height="8.1" fill="#151515"/>
<rect x="101" y="180.9" width="4" height="8.1" fill="#151515"/>
<rect x="106.8" y="180.9" width="4.1" height="8.1" fill="#151515"/>
<rect x="112.3" y="180.9" width="7.3" height="8.1" fill="#151515"/>
<rect x="124.2" y="180.9" width="6.4" height="8.1" fill="#151515"/>
<rect x="133.3" y="180.9" width="15" height="8.1" fill="#151515"/>
<rect x="155" y="180.9" width="25.6" height="8.1" fill="#151515"/>
<rect x="181.6" y="180.9" width="1.8" height="8.1" fill="#151515"/>
<rect x="184.3" y="180.9" width="5.5" height="8.1" fill="#151515"/>
<rect x="201.7" y="180.9" width="15.5" height="8.1" fill="#151515"/>
<rect x="219.6" y="180.9" width="2.2" height="8.1" fill="#151515"/>
<rect x="223.6" y="180.9" width="3.7" height="8.1" fill="#151515"/>
<rect x="231" y="180.9" width="5.4" height="8.1" fill="#151515"/>
<rect x="237.3" y="180.9" width="1.9" height="8.1" fill="#151515"/>
<rect x="240.2" y="180.9" width="1.5" height="8.1" fill="#151515"/>
<rect x="248" y="180.9" width="1.9" height="8.1" fill="#151515"/>
<rect x="252.6" y="180.9" width="5.5" height="8.1" fill="#151515"/>
<rect x="263.6" y="180.9" width="4.6" height="8.1" fill="#151515"/>
<rect x="280" y="180.9" width="1.9" height="8.1" fill="#151515"/>
<rect x="333" y="180.9" width="9.6" height="8.1" fill="#151515"/>
<rect x="346" y="180.9" width="14.9" height="8.1" fill="#151515"/>
<rect x="371.5" y="180.9" width="7.7" height="8.1" fill="#151515"/>
<rect x="382" y="180.9" width="13.5" height="8.1" fill="#151515"/>
<rect x="416" y="180.9" width="11.2" height="8.1" fill="#151515"/>
<rect x="130.6" y="180.9" width="2.7" height="8.1" fill="#777"/>
<rect x="192.5" y="180.9" width="0.8" height="8.1" fill="#888"/>
<rect x="270" y="180.9" width="0.8" height="8.1" fill="#555"/>
<rect x="271.6" y="180.9" width="0.8" height="8.1" fill="#555"/>
<rect x="273.2" y="180.9" width="0.8" height="8.1" fill="#666"/>
<rect x="361.8" y="180.9" width="0.8" height="8.1" fill="#555"/>
<rect x="363.4" y="180.9" width="0.8" height="8.1" fill="#666"/>
<rect x="365" y="180.9" width="0.8" height="8.1" fill="#555"/>
<rect x="366.6" y="180.9" width="0.8" height="8.1" fill="#777"/>
<rect x="396" y="180.9" width="1" height="8.1" fill="#333"/>
<text x="51.0" y="30.4" font-size="6.8" text-anchor="end" fill="#262626" stroke="#262626" stroke-width="0.12">VenG</text>
<text x="469" y="30.3" font-size="6.7" text-anchor="end" fill="#262626" stroke="#262626" stroke-width="0.1">50%</text>
<rect x="431" y="24.2" width="15.95" height="6.6" fill="#2d4a8b" stroke="#1d3670" stroke-width="0.4"/>
<text x="51.0" y="40.03" font-size="6.8" text-anchor="end" fill="#262626" stroke="#262626" stroke-width="0.12">del(17p)</text>
<text x="469" y="39.93" font-size="6.7" text-anchor="end" fill="#262626" stroke="#262626" stroke-width="0.1">7%</text>
<rect x="431" y="33.83" width="1.97" height="6.6" fill="#2d4a8b" stroke="#1d3670" stroke-width="0.4"/>
<text x="51.0" y="48.69" font-size="6.8" text-anchor="end" fill="#262626" stroke="#262626" stroke-width="0.12">del(11q)</text>
<text x="469" y="48.59" font-size="6.7" text-anchor="end" fill="#262626" stroke="#262626" stroke-width="0.1">18%</text>
<rect x="431" y="42.49" width="5.55" height="6.6" fill="#2d4a8b" stroke="#1d3670" stroke-width="0.4"/>
<text x="51.0" y="57.35" font-size="6.8" text-anchor="end" fill="#262626" stroke="#262626" stroke-width="0.12">+12</text>
<text x="469" y="57.25" font-size="6.7" text-anchor="end" fill="#262626" stroke="#262626" stroke-width="0.1">20%</text>
<rect x="431" y="51.15" width="6.2" height="6.6" fill="#2d4a8b" stroke="#1d3670" stroke-width="0.4"/>
<text x="51.0" y="66.01" font-size="6.8" text-anchor="end" fill="#262626" stroke="#262626" stroke-width="0.12">del(13q)</text>
<text x="469" y="65.91" font-size="6.7" text-anchor="end" fill="#262626" stroke="#262626" stroke-width="0.1">53%</text>
<rect x="431" y="59.81" width="16.93" height="6.6" fill="#2d4a8b" stroke="#1d3670" stroke-width="0.4"/>
<text x="51.0" y="74.67" font-size="6.8" text-anchor="end" fill="#262626" stroke="#262626" stroke-width="0.12">NOTCH1</text>
<text x="469" y="74.57" font-size="6.7" text-anchor="end" fill="#262626" stroke="#262626" stroke-width="0.1">23%</text>
<rect x="431" y="68.47" width="7.18" height="6.6" fill="#2d4a8b" stroke="#1d3670" stroke-width="0.4"/>
<text x="51.0" y="83.33" font-size="6.8" text-anchor="end" fill="#262626" stroke="#262626" stroke-width="0.12">SF3B1</text>
<text x="469" y="83.23" font-size="6.7" text-anchor="end" fill="#262626" stroke="#262626" stroke-width="0.1">16%</text>
<rect x="431" y="77.13" width="4.9" height="6.6" fill="#2d4a8b" stroke="#1d3670" stroke-width="0.4"/>
<text x="51.0" y="91.99" font-size="6.8" text-anchor="end" fill="#262626" stroke="#262626" stroke-width="0.12">ATM</text>
<text x="469" y="91.89" font-size="6.7" text-anchor="end" fill="#262626" stroke="#262626" stroke-width="0.1">13%</text>
<rect x="431" y="85.79" width="3.93" height="6.6" fill="#2d4a8b" stroke="#1d3670" stroke-width="0.4"/>
<text x="51.0" y="100.65" font-size="6.8" text-anchor="end" fill="#262626" stroke="#262626" stroke-width="0.12">TP53</text>
<text x="469" y="100.55" font-size="6.7" text-anchor="end" fill="#262626" stroke="#262626" stroke-width="0.1">10%</text>
<rect x="431" y="94.45" width="2.95" height="6.6" fill="#2d4a8b" stroke="#1d3670" stroke-width="0.4"/>
<text x="51.0" y="109.31" font-size="6.8" text-anchor="end" fill="#262626" stroke="#262626" stroke-width="0.12">XPO1</text>
<text x="469" y="109.21" font-size="6.7" text-anchor="end" fill="#262626" stroke="#262626" stroke-width="0.1">6%</text>
<rect x="431" y="103.11" width="1.65" height="6.6" fill="#2d4a8b" stroke="#1d3670" stroke-width="0.4"/>
<text x="51.0" y="117.97" font-size="6.8" text-anchor="end" fill="#262626" stroke="#262626" stroke-width="0.12">RPS15</text>
<text x="469" y="117.87" font-size="6.7" text-anchor="end" fill="#262626" stroke="#262626" stroke-width="0.1">5%</text>
<rect x="431" y="111.77" width="1.32" height="6.6" fill="#2d4a8b" stroke="#1d3670" stroke-width="0.4"/>
<text x="51.0" y="126.63" font-size="6.8" text-anchor="end" fill="#262626" stroke="#262626" stroke-width="0.12">POT1</text>
<text x="469" y="126.53" font-size="6.7" text-anchor="end" fill="#262626" stroke="#262626" stroke-width="0.1">5%</text>
<rect x="431" y="120.43" width="1.32" height="6.6" fill="#2d4a8b" stroke="#1d3670" stroke-width="0.4"/>
<text x="51.0" y="135.29" font-size="6.8" text-anchor="end" fill="#262626" stroke="#262626" stroke-width="0.12">BRAF</text>
<text x="469" y="135.19" font-size="6.7" text-anchor="end" fill="#262626" stroke="#262626" stroke-width="0.1">4%</text>
<rect x="431" y="129.09" width="1" height="6.6" fill="#2d4a8b" stroke="#1d3670" stroke-width="0.4"/>
<text x="51.0" y="143.95" font-size="6.8" text-anchor="end" fill="#262626" stroke="#262626" stroke-width="0.12">NFKBIE</text>
<text x="469" y="143.85" font-size="6.7" text-anchor="end" fill="#262626" stroke="#262626" stroke-width="0.1">4%</text>
<rect x="431" y="137.75" width="1" height="6.6" fill="#2d4a8b" stroke="#1d3670" stroke-width="0.4"/>
<text x="51.0" y="152.61" font-size="6.8" text-anchor="end" fill="#262626" stroke="#262626" stroke-width="0.12">BIRC3</text>
<text x="469" y="152.51" font-size="6.7" text-anchor="end" fill="#262626" stroke="#262626" stroke-width="0.1">4%</text>
<rect x="431" y="146.41" width="1" height="6.6" fill="#2d4a8b" stroke="#1d3670" stroke-width="0.4"/>
<text x="51.0" y="161.27" font-size="6.8" text-anchor="end" fill="#262626" stroke="#262626" stroke-width="0.12">EGR2</text>
<text x="469" y="161.17" font-size="6.7" text-anchor="end" fill="#262626" stroke="#262626" stroke-width="0.1">4%</text>
<rect x="431" y="155.07" width="1" height="6.6" fill="#2d4a8b" stroke="#1d3670" stroke-width="0.4"/>
<text x="51.0" y="169.93" font-size="6.8" text-anchor="end" fill="#262626" stroke="#262626" stroke-width="0.12">MYD88</text>
<text x="469" y="169.83" font-size="6.7" text-anchor="end" fill="#262626" stroke="#262626" stroke-width="0.1">2%</text>
<rect x="431" y="163.73" width="0.35" height="6.6" fill="#2d4a8b" stroke="#1d3670" stroke-width="0.4"/>
<text x="51.0" y="178.59" font-size="6.8" text-anchor="end" fill="#262626" stroke="#262626" stroke-width="0.12">FBXW7</text>
<text x="469" y="178.49" font-size="6.7" text-anchor="end" fill="#262626" stroke="#262626" stroke-width="0.1">1%</text>
<rect x="431" y="172.39" width="0.03" height="6.6" fill="#2d4a8b" stroke="#1d3670" stroke-width="0.4"/>
<text x="51.0" y="187.85" font-size="6.8" text-anchor="end" fill="#262626" stroke="#262626" stroke-width="0.12">IGHVunm</text>
<text x="469" y="187.75" font-size="6.7" text-anchor="end" fill="#262626" stroke="#262626" stroke-width="0.1">60%</text>
<rect x="431" y="181.65" width="19.2" height="6.6" fill="#2d4a8b" stroke="#1d3670" stroke-width="0.4"/>
<text x="7.3" y="215" font-size="11.8" font-weight="bold" fill="#000" stroke="#000" stroke-width="0.45">B</text>
<text x="21.6" y="226.8" font-size="6.9" fill="#2a2a2a">(n)</text>
<text x="29.5" y="294.8" font-size="6.7" text-anchor="end" fill="#2a2a2a" stroke="#2a2a2a" stroke-width="0.1">0</text>
<rect x="32" y="292" width="3.4" height="0.8" fill="#8ea3cf"/>
<text x="29.5" y="282.8" font-size="6.7" text-anchor="end" fill="#2a2a2a" stroke="#2a2a2a" stroke-width="0.1">20</text>
<rect x="32" y="280" width="3.4" height="0.8" fill="#8ea3cf"/>
<text x="29.5" y="270.8" font-size="6.7" text-anchor="end" fill="#2a2a2a" stroke="#2a2a2a" stroke-width="0.1">40</text>
<rect x="32" y="268" width="3.4" height="0.8" fill="#8ea3cf"/>
<text x="29.5" y="258.8" font-size="6.7" text-anchor="end" fill="#2a2a2a" stroke="#2a2a2a" stroke-width="0.1">60</text>
<rect x="32" y="256" width="3.4" height="0.8" fill="#8ea3cf"/>
<text x="29.5" y="246.8" font-size="6.7" text-anchor="end" fill="#2a2a2a" stroke="#2a2a2a" stroke-width="0.1">80</text>
<rect x="32" y="244" width="3.4" height="0.8" fill="#8ea3cf"/>
<text x="29.5" y="234.8" font-size="6.7" text-anchor="end" fill="#2a2a2a" stroke="#2a2a2a" stroke-width="0.1">100</text>
<rect x="32" y="232" width="3.4" height="0.8" fill="#8ea3cf"/>
<rect x="33.6" y="292.1" width="1.8" height="0.6" fill="#6f87c0"/>
<rect x="33.6" y="290.6" width="1.8" height="0.6" fill="#6f87c0"/>
<rect x="33.6" y="289.1" width="1.8" height="0.6" fill="#6f87c0"/>
<rect x="33.6" y="287.6" width="1.8" height="0.6" fill="#6f87c0"/>
<rect x="33.6" y="286.1" width="1.8" height="0.6" fill="#6f87c0"/>
<rect x="33.6" y="284.6" width="1.8" height="0.6" fill="#6f87c0"/>
<rect x="33.6" y="283.1" width="1.8" height="0.6" fill="#6f87c0"/>
<rect x="33.6" y="281.6" width="1.8" height="0.6" fill="#6f87c0"/>
<rect x="33.6" y="280.1" width="1.8" height="0.6" fill="#6f87c0"/>
<rect x="33.6" y="278.6" width="1.8" height="0.6" fill="#6f87c0"/>
<rect x="33.6" y="277.1" width="1.8" height="0.6" fill="#6f87c0"/>
<rect x="33.6" y="275.6" width="1.8" height="0.6" fill="#6f87c0"/>
<rect x="33.6" y="274.1" width="1.8" height="0.6" fill="#6f87c0"/>
<rect x="33.6" y="272.6" width="1.8" height="0.6" fill="#6f87c0"/>
<rect x="33.6" y="271.1" width="1.8" height="0.6" fill="#6f87c0"/>
<rect x="33.6" y="269.6" width="1.8" height="0.6" fill="#6f87c0"/>
<rect x="33.6" y="268.1" width="1.8" height="0.6" fill="#6f87c0"/>
<rect x="33.6" y="266.6" width="1.8" height="0.6" fill="#6f87c0"/>
<rect x="33.6" y="265.1" width="1.8" height="0.6" fill="#6f87c0"/>
<rect x="33.6" y="263.6" width="1.8" height="0.6" fill="#6f87c0"/>
<rect x="33.6" y="262.1" width="1.8" height="0.6" fill="#6f87c0"/>
<rect x="33.6" y="260.6" width="1.8" height="0.6" fill="#6f87c0"/>
<rect x="33.6" y="259.1" width="1.8" height="0.6" fill="#6f87c0"/>
<rect x="33.6" y="257.6" width="1.8" height="0.6" fill="#6f87c0"/>
<rect x="33.6" y="256.1" width="1.8" height="0.6" fill="#6f87c0"/>
<rect x="33.6" y="254.6" width="1.8" height="0.6" fill="#6f87c0"/>
<rect x="33.6" y="253.1" width="1.8" height="0.6" fill="#6f87c0"/>
<rect x="33.6" y="251.6" width="1.8" height="0.6" fill="#6f87c0"/>
<rect x="33.6" y="250.1" width="1.8" height="0.6" fill="#6f87c0"/>
<rect x="33.6" y="248.6" width="1.8" height="0.6" fill="#6f87c0"/>
<rect x="33.6" y="247.1" width="1.8" height="0.6" fill="#6f87c0"/>
<rect x="33.6" y="245.6" width="1.8" height="0.6" fill="#6f87c0"/>
<rect x="33.6" y="244.1" width="1.8" height="0.6" fill="#6f87c0"/>
<rect x="33.6" y="242.6" width="1.8" height="0.6" fill="#6f87c0"/>
<rect x="33.6" y="241.1" width="1.8" height="0.6" fill="#6f87c0"/>
<rect x="33.6" y="239.6" width="1.8" height="0.6" fill="#6f87c0"/>
<rect x="33.6" y="238.1" width="1.8" height="0.6" fill="#6f87c0"/>
<rect x="33.6" y="236.6" width="1.8" height="0.6" fill="#6f87c0"/>
<rect x="33.6" y="235.1" width="1.8" height="0.6" fill="#6f87c0"/>
<rect x="33.6" y="233.6" width="1.8" height="0.6" fill="#6f87c0"/>
<rect x="33.6" y="232.1" width="1.8" height="0.6" fill="#6f87c0"/>
<rect x="35.1" y="229.6" width="1" height="63.3" fill="#4d69aa"/>
<rect x="36.9" y="290.12" width="4.4" height="2.28" fill="#6bb23f"/>
<rect x="41.5" y="279.2" width="4.4" height="13.2" fill="#28427f" stroke="#1b2f60" stroke-width="0.3"/>
<text transform="translate(44.5,297.2) rotate(-90)" font-size="6.8" text-anchor="end" fill="#262626" stroke="#262626" stroke-width="0.1">del(17p)</text>
<rect x="36.9" y="235.9" width="9.1" height="0.8" fill="#444"/>
<text x="41.4" y="236.6" font-size="6.2" text-anchor="middle" fill="#222" stroke="#222" stroke-width="0.2">*</text>
<rect x="48.54" y="285.8" width="4.4" height="6.6" fill="#6bb23f"/>
<rect x="53.14" y="257.6" width="4.4" height="34.8" fill="#28427f" stroke="#1b2f60" stroke-width="0.3"/>
<text transform="translate(56.14,297.2) rotate(-90)" font-size="6.8" text-anchor="end" fill="#262626" stroke="#262626" stroke-width="0.1">del(11q)</text>
<rect x="48.54" y="235.9" width="9.1" height="0.8" fill="#444"/>
<text x="53.04" y="236.6" font-size="6.2" text-anchor="middle" fill="#222" stroke="#222" stroke-width="0.2">*</text>
<rect x="60.18" y="281" width="4.4" height="11.4" fill="#6bb23f"/>
<rect x="64.78" y="260" width="4.4" height="32.4" fill="#28427f" stroke="#1b2f60" stroke-width="0.3"/>
<text transform="translate(67.78,297.2) rotate(-90)" font-size="6.8" text-anchor="end" fill="#262626" stroke="#262626" stroke-width="0.1">+12</text>
<rect x="60.18" y="235.9" width="9.1" height="0.8" fill="#444"/>
<text x="64.68" y="236.6" font-size="6.2" text-anchor="middle" fill="#222" stroke="#222" stroke-width="0.2">*</text>
<rect x="71.82" y="273.8" width="4.4" height="18.6" fill="#6bb23f"/>
<rect x="76.42" y="258.8" width="4.4" height="33.6" fill="#28427f" stroke="#1b2f60" stroke-width="0.3"/>
<text transform="translate(79.42,297.2) rotate(-90)" font-size="6.8" text-anchor="end" fill="#262626" stroke="#262626" stroke-width="0.1">normal KT</text>
<rect x="83.46" y="237.2" width="4.4" height="55.2" fill="#6bb23f"/>
<rect x="88.06" y="261.8" width="4.4" height="30.6" fill="#28427f" stroke="#1b2f60" stroke-width="0.3"/>
<text transform="translate(91.06,297.2) rotate(-90)" font-size="6.8" text-anchor="end" fill="#262626" stroke="#262626" stroke-width="0.1">del(13q)</text>
<rect x="83.46" y="235.9" width="9.1" height="0.8" fill="#444"/>
<text x="87.96" y="236.6" font-size="6.2" text-anchor="middle" fill="#222" stroke="#222" stroke-width="0.2">*</text>
<rect x="95.1" y="285.8" width="4.4" height="6.6" fill="#6bb23f"/>
<rect x="99.7" y="243.8" width="4.4" height="48.6" fill="#28427f" stroke="#1b2f60" stroke-width="0.3"/>
<text transform="translate(102.7,297.2) rotate(-90)" font-size="6.8" text-anchor="end" fill="#262626" stroke="#262626" stroke-width="0.1">NOTCH1</text>
<rect x="95.1" y="235.9" width="9.1" height="0.8" fill="#444"/>
<text x="99.6" y="236.6" font-size="6.2" text-anchor="middle" fill="#222" stroke="#222" stroke-width="0.2">*</text>
<rect x="106.74" y="279.2" width="4.4" height="13.2" fill="#6bb23f"/>
<rect x="111.34" y="269" width="4.4" height="23.4" fill="#28427f" stroke="#1b2f60" stroke-width="0.3"/>
<text transform="translate(114.34,297.2) rotate(-90)" font-size="6.8" text-anchor="end" fill="#262626" stroke="#262626" stroke-width="0.1">SF3B1</text>
<rect x="118.38" y="282.8" width="4.4" height="9.6" fill="#6bb23f"/>
<rect x="122.98" y="272.9" width="4.4" height="19.5" fill="#28427f" stroke="#1b2f60" stroke-width="0.3"/>
<text transform="translate(125.98,297.2) rotate(-90)" font-size="6.8" text-anchor="end" fill="#262626" stroke="#262626" stroke-width="0.1">ATM</text>
<rect x="130.02" y="287" width="4.4" height="5.4" fill="#6bb23f"/>
<rect x="134.62" y="275.24" width="4.4" height="17.16" fill="#28427f" stroke="#1b2f60" stroke-width="0.3"/>
<text transform="translate(137.62,297.2) rotate(-90)" font-size="6.8" text-anchor="end" fill="#262626" stroke="#262626" stroke-width="0.1">TP53</text>
<rect x="141.66" y="290.3" width="4.4" height="2.1" fill="#6bb23f"/>
<rect x="146.26" y="279.5" width="4.4" height="12.9" fill="#28427f" stroke="#1b2f60" stroke-width="0.3"/>
<text transform="translate(149.26,297.2) rotate(-90)" font-size="6.8" text-anchor="end" fill="#262626" stroke="#262626" stroke-width="0.1">XPO1</text>
<rect x="141.66" y="235.9" width="9.1" height="0.8" fill="#444"/>
<text x="146.16" y="236.6" font-size="6.2" text-anchor="middle" fill="#222" stroke="#222" stroke-width="0.2">*</text>
<rect x="157.9" y="279.2" width="4.4" height="13.2" fill="#28427f" stroke="#1b2f60" stroke-width="0.3"/>
<text transform="translate(160.9,297.2) rotate(-90)" font-size="6.8" text-anchor="end" fill="#262626" stroke="#262626" stroke-width="0.1">RPS15</text>
<rect x="153.3" y="235.9" width="9.1" height="0.8" fill="#444"/>
<text x="157.8" y="236.6" font-size="6.2" text-anchor="middle" fill="#222" stroke="#222" stroke-width="0.2">*</text>
<rect x="164.94" y="288.8" width="4.4" height="3.6" fill="#6bb23f"/>
<rect x="169.54" y="284.3" width="4.4" height="8.1" fill="#28427f" stroke="#1b2f60" stroke-width="0.3"/>
<text transform="translate(172.54,297.2) rotate(-90)" font-size="6.8" text-anchor="end" fill="#262626" stroke="#262626" stroke-width="0.1">POT1</text>
<rect x="176.58" y="290.9" width="4.4" height="1.5" fill="#6bb23f"/>
<rect x="181.18" y="284.3" width="4.4" height="8.1" fill="#28427f" stroke="#1b2f60" stroke-width="0.3"/>
<text transform="translate(184.18,297.2) rotate(-90)" font-size="6.8" text-anchor="end" fill="#262626" stroke="#262626" stroke-width="0.1">BRAF</text>
<rect x="188.22" y="290.9" width="4.4" height="1.5" fill="#6bb23f"/>
<rect x="192.82" y="284.3" width="4.4" height="8.1" fill="#28427f" stroke="#1b2f60" stroke-width="0.3"/>
<text transform="translate(195.82,297.2) rotate(-90)" font-size="6.8" text-anchor="end" fill="#262626" stroke="#262626" stroke-width="0.1">NFKBIE</text>
<rect x="199.86" y="291.5" width="4.4" height="0.9" fill="#6bb23f"/>
<rect x="204.46" y="284.3" width="4.4" height="8.1" fill="#28427f" stroke="#1b2f60" stroke-width="0.3"/>
<text transform="translate(207.46,297.2) rotate(-90)" font-size="6.8" text-anchor="end" fill="#262626" stroke="#262626" stroke-width="0.1">BIRC3</text>
<rect x="199.86" y="235.9" width="9.1" height="0.8" fill="#444"/>
<text x="204.36" y="236.6" font-size="6.2" text-anchor="middle" fill="#222" stroke="#222" stroke-width="0.2">*</text>
<rect x="211.5" y="290" width="4.4" height="2.4" fill="#6bb23f"/>
<rect x="216.1" y="286.4" width="4.4" height="6" fill="#28427f" stroke="#1b2f60" stroke-width="0.3"/>
<text transform="translate(219.1,297.2) rotate(-90)" font-size="6.8" text-anchor="end" fill="#262626" stroke="#262626" stroke-width="0.1">EGR2</text>
<rect x="223.14" y="288.2" width="4.4" height="4.2" fill="#6bb23f"/>
<text transform="translate(230.74,297.2) rotate(-90)" font-size="6.8" text-anchor="end" fill="#262626" stroke="#262626" stroke-width="0.1">MYD88</text>
<rect x="223.14" y="235.9" width="9.1" height="0.8" fill="#444"/>
<text x="227.64" y="236.6" font-size="6.2" text-anchor="middle" fill="#222" stroke="#222" stroke-width="0.2">*</text>
<rect x="234.78" y="290.9" width="4.4" height="1.5" fill="#6bb23f"/>
<rect x="239.38" y="290.9" width="4.4" height="1.5" fill="#28427f" stroke="#1b2f60" stroke-width="0.3"/>
<text transform="translate(242.38,297.2) rotate(-90)" font-size="6.8" text-anchor="end" fill="#262626" stroke="#262626" stroke-width="0.1">FBXW7</text>
<rect x="35.1" y="292.2" width="210" height="1" fill="#222"/>
<rect x="195.1" y="244.6" width="4.4" height="4.6" fill="#28427f"/>
<rect x="195.1" y="252.5" width="4.4" height="4.6" fill="#6bb23f"/>
<text x="202.6" y="249.2" font-size="5.6" fill="#222" stroke="#222" stroke-width="0.1">IGHVunm (n=244)</text>
<text x="202.6" y="257.1" font-size="5.6" fill="#222" stroke="#222" stroke-width="0.1">IGHVmut (n=159)</text>
<text x="221" y="328.4" font-size="5.6" fill="#222" stroke="#222" stroke-width="0.1">* p&lt;0.05</text>
<text x="7" y="355.2" font-size="12.2" font-weight="bold" fill="#000" stroke="#000" stroke-width="0.45">C</text>
<line x1="57.4" y1="378.6" x2="147.5" y2="370.8" stroke="#c9506e" stroke-width="0.9"/>
<line x1="57.4" y1="378.6" x2="165.8" y2="396.3" stroke="#c9506e" stroke-width="0.9"/>
<line x1="57.4" y1="421.6" x2="165.8" y2="396.3" stroke="#c9506e" stroke-width="0.9"/>
<line x1="86.0" y1="442.5" x2="165.8" y2="396.3" stroke="#c9506e" stroke-width="0.9"/>
<line x1="57.4" y1="378.6" x2="57.4" y2="421.6" stroke="#5aa53a" stroke-width="1.5"/>
<line x1="57.4" y1="421.6" x2="29.5" y2="407.3" stroke="#5aa53a" stroke-width="1.5"/>
<line x1="57.4" y1="421.6" x2="29.5" y2="441.7" stroke="#5aa53a" stroke-width="1.5"/>
<line x1="57.4" y1="421.6" x2="86.0" y2="442.5" stroke="#5aa53a" stroke-width="1.5"/>
<line x1="165.8" y1="396.3" x2="147.5" y2="370.8" stroke="#5aa53a" stroke-width="1.5"/>
<line x1="165.8" y1="396.3" x2="193.5" y2="383.9" stroke="#5aa53a" stroke-width="1.5"/>
<line x1="165.8" y1="396.3" x2="183.5" y2="421.7" stroke="#5aa53a" stroke-width="1.5"/>
<ellipse cx="57.4" cy="378.6" rx="11.2" ry="9.8" fill="#a3a7cc" stroke="#4b5b9c" stroke-width="0.8"/>
<text x="57.4" y="380.2" font-size="4.5" text-anchor="middle" fill="#1a1a1a" stroke="#1a1a1a" stroke-width="0.12">del13q</text>
<ellipse cx="57.4" cy="421.6" rx="11.2" ry="9.8" fill="#a3a7cc" stroke="#4b5b9c" stroke-width="0.8"/>
<text x="57.4" y="423.2" font-size="4.5" text-anchor="middle" fill="#1a1a1a" stroke="#1a1a1a" stroke-width="0.12">del11q</text>
<ellipse cx="29.5" cy="407.3" rx="11" ry="9.8" fill="#fff" stroke="#4c6aa8" stroke-width="0.8"/>
<text x="29.5" y="408.9" font-size="4.5" text-anchor="middle" fill="#1a1a1a" stroke="#1a1a1a" stroke-width="0.12">NFKBIE</text>
<ellipse cx="29.5" cy="441.7" rx="11" ry="9.8" fill="#fff" stroke="#4c6aa8" stroke-width="0.8"/>
<text x="29.5" y="443.3" font-size="4.5" text-anchor="middle" fill="#1a1a1a" stroke="#1a1a1a" stroke-width="0.12">BIRC3</text>
<ellipse cx="86.0" cy="442.5" rx="11" ry="9.8" fill="#fff" stroke="#4c6aa8" stroke-width="0.8"/>
<text x="86.0" y="444.1" font-size="4.5" text-anchor="middle" fill="#1a1a1a" stroke="#1a1a1a" stroke-width="0.12">ATM</text>
<ellipse cx="147.5" cy="370.8" rx="11" ry="9.8" fill="#fff" stroke="#4c6aa8" stroke-width="0.8"/>
<text x="147.5" y="372.4" font-size="4.5" text-anchor="middle" fill="#1a1a1a" stroke="#1a1a1a" stroke-width="0.12">NOTCH1</text>
<ellipse cx="165.8" cy="396.3" rx="11.2" ry="9.8" fill="#a3a7cc" stroke="#4b5b9c" stroke-width="0.8"/>
<text x="165.8" y="397.9" font-size="4.5" text-anchor="middle" fill="#1a1a1a" stroke="#1a1a1a" stroke-width="0.12">+12</text>
<ellipse cx="193.5" cy="383.9" rx="11" ry="9.8" fill="#fff" stroke="#4c6aa8" stroke-width="0.8"/>
<text x="193.5" y="385.5" font-size="4.5" text-anchor="middle" fill="#1a1a1a" stroke="#1a1a1a" stroke-width="0.12">FBXW7</text>
<ellipse cx="183.5" cy="421.7" rx="11" ry="9.8" fill="#fff" stroke="#4c6aa8" stroke-width="0.8"/>
<text x="183.5" y="423.3" font-size="4.5" text-anchor="middle" fill="#1a1a1a" stroke="#1a1a1a" stroke-width="0.12">EGR2</text>
<text x="263.2" y="214.8" font-size="12.2" font-weight="bold" fill="#000" stroke="#000" stroke-width="0.45">D</text>
<path d="M463.02,298.35 A76.1,76.1 0 0 1 465.96,306.04 Q393.08,321.59 318.95,314 A76.1,76.1 0 0 1 321.12,305.78 Q392.93,318.41 463.02,298.35 Z" fill="#372fdc" fill-opacity="0.85" stroke="#444" stroke-opacity="0.3" stroke-width="0.3"/>
<path d="M466.31,307.18 A76.1,76.1 0 0 1 467.88,313.22 Q400.09,338.85 352.05,393.12 A76.1,76.1 0 0 1 345.61,388.44 Q398.48,336.7 466.31,307.18 Z" fill="#372fdc" fill-opacity="0.85" stroke="#444" stroke-opacity="0.3" stroke-width="0.3"/>
<path d="M458.32,289.42 A76.1,76.1 0 0 1 460.44,293.1 Q399.16,308.95 354.88,263.73 A76.1,76.1 0 0 1 358.83,261.55 Q399.53,307.78 458.32,289.42 Z" fill="#372fdc" fill-opacity="0.85" stroke="#444" stroke-opacity="0.3" stroke-width="0.3"/>
<path d="M461.37,294.87 A76.1,76.1 0 0 1 463.02,298.35 Q393.2,317.66 322.45,302.03 A76.1,76.1 0 0 1 323.98,298.35 Q393.17,316.22 461.37,294.87 Z" fill="#372fdc" fill-opacity="0.85" stroke="#444" stroke-opacity="0.3" stroke-width="0.3"/>
<path d="M467.88,313.22 A76.1,76.1 0 0 1 468.4,315.82 Q409.28,341.8 397.48,405.3 A76.1,76.1 0 0 1 393.5,405.4 Q408.38,341.3 467.88,313.22 Z" fill="#372fdc" fill-opacity="0.85" stroke="#444" stroke-opacity="0.3" stroke-width="0.3"/>
<path d="M460.82,293.81 A76.1,76.1 0 0 1 461.37,294.87 Q396.71,311.26 341.7,273.55 A76.1,76.1 0 0 1 342.58,272.75 Q396.78,310.89 460.82,293.81 Z" fill="#372fdc" fill-opacity="0.85" stroke="#444" stroke-opacity="0.3" stroke-width="0.3"/>
<path d="M465.96,306.04 A76.1,76.1 0 0 1 466.31,307.18 Q395.33,333.21 329.82,370.97 A76.1,76.1 0 0 1 329.1,369.85 Q395.11,332.76 465.96,306.04 Z" fill="#372fdc" fill-opacity="0.85" stroke="#444" stroke-opacity="0.3" stroke-width="0.3"/>
<path d="M460.44,293.1 A76.1,76.1 0 0 1 460.82,293.81 Q398.7,309.42 352.16,265.4 A76.1,76.1 0 0 1 352.72,265.05 Q398.73,309.21 460.44,293.1 Z" fill="#372fdc" fill-opacity="0.85" stroke="#444" stroke-opacity="0.3" stroke-width="0.3"/>
<path d="M455.61,373.27 A76.1,76.1 0 0 1 452.39,377.5 Q392.3,330.99 328.61,289.54 A76.1,76.1 0 0 1 331.47,285.22 Q393.52,329.28 455.61,373.27 Z" fill="#6cc6e2" fill-opacity="0.85" stroke="#444" stroke-opacity="0.3" stroke-width="0.3"/>
<path d="M452.39,377.5 A76.1,76.1 0 0 1 448.88,381.49 Q390.72,333.45 324.2,297.86 A76.1,76.1 0 0 1 326.56,293.1 Q391.89,331.7 452.39,377.5 Z" fill="#6cc6e2" fill-opacity="0.85" stroke="#444" stroke-opacity="0.3" stroke-width="0.3"/>
<path d="M457.82,369.96 A76.1,76.1 0 0 1 455.61,373.27 Q397.02,325.75 348.98,267.58 A76.1,76.1 0 0 1 352.05,265.48 Q398.08,324.67 457.82,369.96 Z" fill="#6cc6e2" fill-opacity="0.85" stroke="#444" stroke-opacity="0.3" stroke-width="0.3"/>
<path d="M459.07,367.92 A76.1,76.1 0 0 1 457.82,369.96 Q399.5,323.85 359.19,261.37 A76.1,76.1 0 0 1 361.34,260.33 Q400.18,323.23 459.07,367.92 Z" fill="#6cc6e2" fill-opacity="0.85" stroke="#444" stroke-opacity="0.3" stroke-width="0.3"/>
<path d="M394.16,253.2 A76.1,76.1 0 0 1 410.88,255.21 Q384.69,318.39 317.41,330.63 A76.1,76.1 0 0 1 318.88,314.39 Q376.86,308.82 394.16,253.2 Z" fill="#c42fe2" fill-opacity="0.85" stroke="#444" stroke-opacity="0.3" stroke-width="0.3"/>
<path d="M451.62,280.18 A76.1,76.1 0 0 1 458.32,289.42 Q403.82,306.34 380.29,254.36 A76.1,76.1 0 0 1 390.84,253.25 Q404.59,304.27 451.62,280.18 Z" fill="#372fdc" fill-opacity="0.85" stroke="#444" stroke-opacity="0.3" stroke-width="0.3"/>
<path d="M422.01,258.74 A76.1,76.1 0 0 1 426.38,260.67 Q388.8,305.35 337.12,278.18 A76.1,76.1 0 0 1 341.41,273.83 Q388.78,304.09 422.01,258.74 Z" fill="#c42fe2" fill-opacity="0.85" stroke="#444" stroke-opacity="0.3" stroke-width="0.3"/>
<path d="M415.5,256.45 A76.1,76.1 0 0 1 419.03,257.61 Q389.03,303.13 345.61,270.16 A76.1,76.1 0 0 1 348.55,267.89 Q388.91,302.45 415.5,256.45 Z" fill="#c42fe2" fill-opacity="0.85" stroke="#444" stroke-opacity="0.3" stroke-width="0.3"/>
<path d="M429.46,262.23 A76.1,76.1 0 0 1 432.24,263.8 Q389.14,306.98 332.96,283.18 A76.1,76.1 0 0 1 334.95,280.69 Q388.98,306.16 429.46,262.23 Z" fill="#c42fe2" fill-opacity="0.85" stroke="#444" stroke-opacity="0.3" stroke-width="0.3"/>
<path d="M412.43,255.59 A76.1,76.1 0 0 1 414.99,256.3 Q388.1,326.43 344.99,387.94 A76.1,76.1 0 0 1 342.98,386.21 Q387.18,325.94 412.43,255.59 Z" fill="#c42fe2" fill-opacity="0.85" stroke="#444" stroke-opacity="0.3" stroke-width="0.3"/>
<path d="M426.86,260.9 A76.1,76.1 0 0 1 428.99,261.98 Q386.5,321.56 322.99,357.93 A76.1,76.1 0 0 1 322.22,355.95 Q385.92,320.95 426.86,260.9 Z" fill="#c42fe2" fill-opacity="0.85" stroke="#444" stroke-opacity="0.3" stroke-width="0.3"/>
<path d="M419.53,257.79 A76.1,76.1 0 0 1 421.51,258.54 Q386.18,323.19 328.89,369.51 A76.1,76.1 0 0 1 327.93,367.92 Q385.59,322.72 419.53,257.79 Z" fill="#c42fe2" fill-opacity="0.85" stroke="#444" stroke-opacity="0.3" stroke-width="0.3"/>
<path d="M433.83,264.76 A76.1,76.1 0 0 1 434.72,265.33 Q396.92,330.94 369.35,401.47 A76.1,76.1 0 0 1 368.47,401.17 Q396.56,330.77 433.83,264.76 Z" fill="#c42fe2" fill-opacity="0.85" stroke="#444" stroke-opacity="0.3" stroke-width="0.3"/>
<path d="M432.69,264.07 A76.1,76.1 0 0 1 433.38,264.48 Q388.09,309.1 326.56,293.1 A76.1,76.1 0 0 1 326.94,292.41 Q388.03,308.88 432.69,264.07 Z" fill="#c42fe2" fill-opacity="0.85" stroke="#444" stroke-opacity="0.3" stroke-width="0.3"/>
<path d="M437.69,267.35 A76.1,76.1 0 0 1 449.16,277.4 Q393.5,329.3 390.05,405.32 A76.1,76.1 0 0 1 378.46,403.9 Q393.5,329.3 437.69,267.35 Z" fill="#7e2bdf" fill-opacity="0.85" stroke="#444" stroke-opacity="0.3" stroke-width="0.3"/>
<path d="M468.9,318.97 A76.1,76.1 0 0 1 469.03,338.57 Q394.05,335.6 320.73,351.55 A76.1,76.1 0 0 1 317.43,331.29 Q393.36,327.63 468.9,318.97 Z" fill="#6cc6e2" fill-opacity="0.85" stroke="#444" stroke-opacity="0.3" stroke-width="0.3"/>
<path d="M469.03,338.57 A76.1,76.1 0 0 1 465.67,353.45 Q402.23,320.02 364.99,258.74 A76.1,76.1 0 0 1 379.63,254.47 Q405.83,316.19 469.03,338.57 Z" fill="#6cc6e2" fill-opacity="0.85" stroke="#444" stroke-opacity="0.3" stroke-width="0.3"/>
<path d="M448.88,381.49 A76.1,76.1 0 0 1 437.69,391.25 Q396.74,355.84 365.49,400.06 A76.1,76.1 0 0 1 352.5,393.41 Q396.38,352.56 448.88,381.49 Z" fill="#6cc6e2" fill-opacity="0.85" stroke="#444" stroke-opacity="0.3" stroke-width="0.3"/>
<path d="M437.69,391.25 A76.1,76.1 0 0 1 428.99,396.62 Q397.59,357.68 378.46,403.9 A76.1,76.1 0 0 1 368.72,401.25 Q397.38,356.08 437.69,391.25 Z" fill="#6cc6e2" fill-opacity="0.85" stroke="#444" stroke-opacity="0.3" stroke-width="0.3"/>
<path d="M428.99,396.62 A76.1,76.1 0 0 1 420.77,400.35 Q401.49,358.52 406.19,404.33 A76.1,76.1 0 0 1 397.48,405.3 Q401.39,357.96 428.99,396.62 Z" fill="#6cc6e2" fill-opacity="0.85" stroke="#444" stroke-opacity="0.3" stroke-width="0.3"/>
<path d="M465.67,353.45 A76.1,76.1 0 0 1 462.75,360.86 Q393.96,342.85 326.56,365.5 A76.1,76.1 0 0 1 323.14,358.3 Q393.86,339.93 465.67,353.45 Z" fill="#6cc6e2" fill-opacity="0.85" stroke="#444" stroke-opacity="0.3" stroke-width="0.3"/>
<path d="M462.75,360.86 A76.1,76.1 0 0 1 459.07,367.92 Q394.87,346.71 334.78,377.71 A76.1,76.1 0 0 1 330.04,371.3 Q394.66,344.01 462.75,360.86 Z" fill="#6cc6e2" fill-opacity="0.85" stroke="#444" stroke-opacity="0.3" stroke-width="0.3"/>
<path d="M393.93,247.5 A81.8,81.8 0 0 1 438.41,260.93 L436.32,264.11 A78.0,78.0 0 0 0 393.91,251.3 Z" fill="#c632e6"/>
<line x1="393.93" y1="247.2" x2="393.94" y2="245.9" stroke="#777" stroke-width="0.35"/>
<text x="393.94" y="245.4" font-size="2.3" fill="#555" stroke="#777" stroke-width="0.15" text-anchor="start" dominant-baseline="central" transform="rotate(-89.7 393.94 245.4)">0</text>
<line x1="399.83" y1="247.44" x2="399.93" y2="246.15" stroke="#777" stroke-width="0.35"/>
<text x="399.97" y="245.65" font-size="2.3" fill="#555" stroke="#777" stroke-width="0.15" text-anchor="start" dominant-baseline="central" transform="rotate(-85.58 399.97 245.65)">10</text>
<line x1="405.71" y1="248.11" x2="405.9" y2="246.83" stroke="#777" stroke-width="0.35"/>
<text x="405.97" y="246.33" font-size="2.3" fill="#555" stroke="#777" stroke-width="0.15" text-anchor="start" dominant-baseline="central" transform="rotate(-81.45 405.97 246.33)">20</text>
<line x1="411.51" y1="249.2" x2="411.8" y2="247.93" stroke="#777" stroke-width="0.35"/>
<text x="411.91" y="247.44" font-size="2.3" fill="#555" stroke="#777" stroke-width="0.15" text-anchor="start" dominant-baseline="central" transform="rotate(-77.33 411.91 247.44)">30</text>
<line x1="417.23" y1="250.7" x2="417.61" y2="249.46" stroke="#777" stroke-width="0.35"/>
<text x="417.75" y="248.98" font-size="2.3" fill="#555" stroke="#777" stroke-width="0.15" text-anchor="start" dominant-baseline="central" transform="rotate(-73.2 417.75 248.98)">40</text>
<line x1="422.82" y1="252.61" x2="423.29" y2="251.4" stroke="#777" stroke-width="0.35"/>
<text x="423.46" y="250.93" font-size="2.3" fill="#555" stroke="#777" stroke-width="0.15" text-anchor="start" dominant-baseline="central" transform="rotate(-69.08 423.46 250.93)">50</text>
<line x1="428.26" y1="254.92" x2="428.81" y2="253.74" stroke="#777" stroke-width="0.35"/>
<text x="429.02" y="253.29" font-size="2.3" fill="#555" stroke="#777" stroke-width="0.15" text-anchor="start" dominant-baseline="central" transform="rotate(-64.95 429.02 253.29)">60</text>
<line x1="433.52" y1="257.62" x2="434.16" y2="256.48" stroke="#777" stroke-width="0.35"/>
<text x="434.4" y="256.04" font-size="2.3" fill="#555" stroke="#777" stroke-width="0.15" text-anchor="start" dominant-baseline="central" transform="rotate(-60.83 434.4 256.04)">70</text>
<line x1="438.57" y1="260.68" x2="439.29" y2="259.59" stroke="#777" stroke-width="0.35"/>
<text x="439.56" y="259.18" font-size="2.3" fill="#555" stroke="#777" stroke-width="0.15" text-anchor="start" dominant-baseline="central" transform="rotate(-56.7 439.56 259.18)">80</text>
<path d="M440.65,262.46 A81.8,81.8 0 0 1 453.71,273.93 L450.92,276.5 A78.0,78.0 0 0 0 438.46,265.56 Z" fill="#8a34e6"/>
<line x1="440.83" y1="262.21" x2="441.57" y2="261.15" stroke="#777" stroke-width="0.35"/>
<text x="441.86" y="260.74" font-size="2.3" fill="#555" stroke="#777" stroke-width="0.15" text-anchor="start" dominant-baseline="central" transform="rotate(-54.8 441.86 260.74)">0</text>
<line x1="445.46" y1="265.74" x2="446.29" y2="264.73" stroke="#777" stroke-width="0.35"/>
<text x="446.6" y="264.34" font-size="2.3" fill="#555" stroke="#777" stroke-width="0.15" text-anchor="start" dominant-baseline="central" transform="rotate(-50.73 446.6 264.34)">10</text>
<line x1="449.84" y1="269.58" x2="450.73" y2="268.64" stroke="#777" stroke-width="0.35"/>
<text x="451.08" y="268.27" font-size="2.3" fill="#555" stroke="#777" stroke-width="0.15" text-anchor="start" dominant-baseline="central" transform="rotate(-46.67 451.08 268.27)">20</text>
<line x1="453.93" y1="273.73" x2="454.89" y2="272.85" stroke="#777" stroke-width="0.35"/>
<text x="455.26" y="272.51" font-size="2.3" fill="#555" stroke="#777" stroke-width="0.15" text-anchor="start" dominant-baseline="central" transform="rotate(-42.6 455.26 272.51)">30</text>
<path d="M455.7,276.18 A81.8,81.8 0 0 1 474.06,315.1 L470.32,315.76 A78.0,78.0 0 0 0 452.81,278.64 Z" fill="#2a2aee"/>
<line x1="455.93" y1="275.98" x2="456.92" y2="275.14" stroke="#777" stroke-width="0.35"/>
<text x="457.3" y="274.81" font-size="2.3" fill="#555" stroke="#777" stroke-width="0.15" text-anchor="start" dominant-baseline="central" transform="rotate(-40.5 457.3 274.81)">0</text>
<line x1="459.8" y1="280.88" x2="460.85" y2="280.11" stroke="#777" stroke-width="0.35"/>
<text x="461.25" y="279.82" font-size="2.3" fill="#555" stroke="#777" stroke-width="0.15" text-anchor="start" dominant-baseline="central" transform="rotate(-36.14 461.25 279.82)">10</text>
<line x1="463.29" y1="286.05" x2="464.39" y2="285.37" stroke="#777" stroke-width="0.35"/>
<text x="464.82" y="285.11" font-size="2.3" fill="#555" stroke="#777" stroke-width="0.15" text-anchor="start" dominant-baseline="central" transform="rotate(-31.79 464.82 285.11)">20</text>
<line x1="466.37" y1="291.48" x2="467.52" y2="290.88" stroke="#777" stroke-width="0.35"/>
<text x="467.97" y="290.65" font-size="2.3" fill="#555" stroke="#777" stroke-width="0.15" text-anchor="start" dominant-baseline="central" transform="rotate(-27.43 467.97 290.65)">30</text>
<line x1="469.03" y1="297.13" x2="470.23" y2="296.62" stroke="#777" stroke-width="0.35"/>
<text x="470.69" y="296.42" font-size="2.3" fill="#555" stroke="#777" stroke-width="0.15" text-anchor="start" dominant-baseline="central" transform="rotate(-23.07 470.69 296.42)">40</text>
<line x1="471.26" y1="302.96" x2="472.49" y2="302.54" stroke="#777" stroke-width="0.35"/>
<text x="472.96" y="302.38" font-size="2.3" fill="#555" stroke="#777" stroke-width="0.15" text-anchor="start" dominant-baseline="central" transform="rotate(-18.71 472.96 302.38)">50</text>
<line x1="473.04" y1="308.94" x2="474.3" y2="308.62" stroke="#777" stroke-width="0.35"/>
<text x="474.78" y="308.5" font-size="2.3" fill="#555" stroke="#777" stroke-width="0.15" text-anchor="start" dominant-baseline="central" transform="rotate(-14.36 474.78 308.5)">60</text>
<line x1="474.35" y1="315.04" x2="475.63" y2="314.82" stroke="#777" stroke-width="0.35"/>
<text x="476.13" y="314.73" font-size="2.3" fill="#555" stroke="#777" stroke-width="0.15" text-anchor="start" dominant-baseline="central" transform="rotate(-10 476.13 314.73)">70</text>
<path d="M474.5,317.92 A81.8,81.8 0 0 1 410.23,409.37 L409.45,405.65 A78.0,78.0 0 0 0 470.74,318.44 Z" fill="#6ec8e6"/>
<line x1="474.8" y1="317.87" x2="476.09" y2="317.69" stroke="#777" stroke-width="0.35"/>
<text x="476.58" y="317.62" font-size="2.3" fill="#555" stroke="#777" stroke-width="0.15" text-anchor="start" dominant-baseline="central" transform="rotate(-8 476.58 317.62)">0</text>
<line x1="475.41" y1="323.72" x2="476.71" y2="323.63" stroke="#777" stroke-width="0.35"/>
<text x="477.21" y="323.6" font-size="2.3" fill="#555" stroke="#777" stroke-width="0.15" text-anchor="start" dominant-baseline="central" transform="rotate(-3.9 477.21 323.6)">10</text>
<line x1="475.6" y1="329.6" x2="476.9" y2="329.6" stroke="#777" stroke-width="0.35"/>
<text x="477.4" y="329.61" font-size="2.3" fill="#555" stroke="#777" stroke-width="0.15" text-anchor="start" dominant-baseline="central" transform="rotate(0.21 477.4 329.61)">20</text>
<line x1="475.37" y1="335.48" x2="476.66" y2="335.57" stroke="#777" stroke-width="0.35"/>
<text x="477.16" y="335.61" font-size="2.3" fill="#555" stroke="#777" stroke-width="0.15" text-anchor="start" dominant-baseline="central" transform="rotate(4.31 477.16 335.61)">30</text>
<line x1="474.72" y1="341.32" x2="476" y2="341.51" stroke="#777" stroke-width="0.35"/>
<text x="476.5" y="341.58" font-size="2.3" fill="#555" stroke="#777" stroke-width="0.15" text-anchor="start" dominant-baseline="central" transform="rotate(8.42 476.5 341.58)">40</text>
<line x1="473.65" y1="347.1" x2="474.92" y2="347.38" stroke="#777" stroke-width="0.35"/>
<text x="475.4" y="347.49" font-size="2.3" fill="#555" stroke="#777" stroke-width="0.15" text-anchor="start" dominant-baseline="central" transform="rotate(12.52 475.4 347.49)">50</text>
<line x1="472.17" y1="352.79" x2="473.41" y2="353.17" stroke="#777" stroke-width="0.35"/>
<text x="473.89" y="353.31" font-size="2.3" fill="#555" stroke="#777" stroke-width="0.15" text-anchor="start" dominant-baseline="central" transform="rotate(16.63 473.89 353.31)">60</text>
<line x1="470.28" y1="358.36" x2="471.5" y2="358.83" stroke="#777" stroke-width="0.35"/>
<text x="471.97" y="359" font-size="2.3" fill="#555" stroke="#777" stroke-width="0.15" text-anchor="start" dominant-baseline="central" transform="rotate(20.73 471.97 359)">70</text>
<line x1="468.01" y1="363.79" x2="469.19" y2="364.33" stroke="#777" stroke-width="0.35"/>
<text x="469.64" y="364.54" font-size="2.3" fill="#555" stroke="#777" stroke-width="0.15" text-anchor="start" dominant-baseline="central" transform="rotate(24.84 469.64 364.54)">80</text>
<line x1="465.35" y1="369.03" x2="466.48" y2="369.66" stroke="#777" stroke-width="0.35"/>
<text x="466.92" y="369.9" font-size="2.3" fill="#555" stroke="#777" stroke-width="0.15" text-anchor="start" dominant-baseline="central" transform="rotate(28.94 466.92 369.9)">90</text>
<line x1="462.32" y1="374.07" x2="463.41" y2="374.78" stroke="#777" stroke-width="0.35"/>
<text x="463.83" y="375.05" font-size="2.3" fill="#555" stroke="#777" stroke-width="0.15" text-anchor="start" dominant-baseline="central" transform="rotate(33.05 463.83 375.05)">100</text>
<line x1="458.94" y1="378.88" x2="459.97" y2="379.67" stroke="#777" stroke-width="0.35"/>
<text x="460.37" y="379.97" font-size="2.3" fill="#555" stroke="#777" stroke-width="0.15" text-anchor="start" dominant-baseline="central" transform="rotate(37.15 460.37 379.97)">110</text>
<line x1="455.22" y1="383.44" x2="456.2" y2="384.3" stroke="#777" stroke-width="0.35"/>
<text x="456.57" y="384.63" font-size="2.3" fill="#555" stroke="#777" stroke-width="0.15" text-anchor="start" dominant-baseline="central" transform="rotate(41.26 456.57 384.63)">120</text>
<line x1="451.19" y1="387.72" x2="452.1" y2="388.64" stroke="#777" stroke-width="0.35"/>
<text x="452.45" y="389" font-size="2.3" fill="#555" stroke="#777" stroke-width="0.15" text-anchor="start" dominant-baseline="central" transform="rotate(45.36 452.45 389)">130</text>
<line x1="446.86" y1="391.7" x2="447.7" y2="392.69" stroke="#777" stroke-width="0.35"/>
<text x="448.03" y="393.07" font-size="2.3" fill="#555" stroke="#777" stroke-width="0.15" text-anchor="start" dominant-baseline="central" transform="rotate(49.47 448.03 393.07)">140</text>
<line x1="442.25" y1="395.36" x2="443.02" y2="396.4" stroke="#777" stroke-width="0.35"/>
<text x="443.32" y="396.81" font-size="2.3" fill="#555" stroke="#777" stroke-width="0.15" text-anchor="start" dominant-baseline="central" transform="rotate(53.57 443.32 396.81)">150</text>
<line x1="437.4" y1="398.68" x2="438.09" y2="399.78" stroke="#777" stroke-width="0.35"/>
<text x="438.36" y="400.2" font-size="2.3" fill="#555" stroke="#777" stroke-width="0.15" text-anchor="start" dominant-baseline="central" transform="rotate(57.68 438.36 400.2)">160</text>
<line x1="432.32" y1="401.64" x2="432.94" y2="402.79" stroke="#777" stroke-width="0.35"/>
<text x="433.17" y="403.23" font-size="2.3" fill="#555" stroke="#777" stroke-width="0.15" text-anchor="start" dominant-baseline="central" transform="rotate(61.78 433.17 403.23)">170</text>
<line x1="427.04" y1="404.24" x2="427.57" y2="405.42" stroke="#777" stroke-width="0.35"/>
<text x="427.78" y="405.88" font-size="2.3" fill="#555" stroke="#777" stroke-width="0.15" text-anchor="start" dominant-baseline="central" transform="rotate(65.89 427.78 405.88)">180</text>
<line x1="421.59" y1="406.44" x2="422.04" y2="407.67" stroke="#777" stroke-width="0.35"/>
<text x="422.21" y="408.14" font-size="2.3" fill="#555" stroke="#777" stroke-width="0.15" text-anchor="start" dominant-baseline="central" transform="rotate(69.99 422.21 408.14)">190</text>
<line x1="416" y1="408.26" x2="416.35" y2="409.51" stroke="#777" stroke-width="0.35"/>
<text x="416.49" y="409.99" font-size="2.3" fill="#555" stroke="#777" stroke-width="0.15" text-anchor="start" dominant-baseline="central" transform="rotate(74.1 416.49 409.99)">200</text>
<line x1="410.29" y1="409.67" x2="410.55" y2="410.94" stroke="#777" stroke-width="0.35"/>
<text x="410.66" y="411.43" font-size="2.3" fill="#555" stroke="#777" stroke-width="0.15" text-anchor="start" dominant-baseline="central" transform="rotate(78.2 410.66 411.43)">210</text>
<path d="M407.42,409.91 A81.8,81.8 0 0 1 392.93,411.1 L392.96,407.3 A78.0,78.0 0 0 0 406.78,406.16 Z" fill="#74e46a"/>
<line x1="407.47" y1="410.2" x2="407.7" y2="411.48" stroke="#777" stroke-width="0.35"/>
<text x="407.78" y="411.98" font-size="2.3" fill="#555" stroke="#777" stroke-width="0.15" text-anchor="start" dominant-baseline="central" transform="rotate(80.2 407.78 411.98)">0</text>
<line x1="400.23" y1="411.12" x2="400.33" y2="412.42" stroke="#777" stroke-width="0.35"/>
<text x="400.37" y="412.92" font-size="2.3" fill="#555" stroke="#777" stroke-width="0.15" text-anchor="start" dominant-baseline="central" transform="rotate(85.3 400.37 412.92)">10</text>
<line x1="392.93" y1="411.4" x2="392.92" y2="412.7" stroke="#777" stroke-width="0.35"/>
<text x="392.91" y="413.2" font-size="2.3" fill="#555" stroke="#777" stroke-width="0.15" text-anchor="end" dominant-baseline="central" transform="rotate(270.4 392.91 413.2)">20</text>
<path d="M390.07,411.03 A81.8,81.8 0 0 1 366.33,406.46 L367.59,402.87 A78.0,78.0 0 0 0 390.23,407.23 Z" fill="#7ae45e"/>
<line x1="390.06" y1="411.33" x2="390.01" y2="412.63" stroke="#777" stroke-width="0.35"/>
<text x="389.99" y="413.13" font-size="2.3" fill="#555" stroke="#777" stroke-width="0.15" text-anchor="end" dominant-baseline="central" transform="rotate(272.4 389.99 413.13)">0</text>
<line x1="383.99" y1="410.85" x2="383.84" y2="412.14" stroke="#777" stroke-width="0.35"/>
<text x="383.78" y="412.64" font-size="2.3" fill="#555" stroke="#777" stroke-width="0.15" text-anchor="end" dominant-baseline="central" transform="rotate(276.65 383.78 412.64)">10</text>
<line x1="377.98" y1="409.92" x2="377.73" y2="411.2" stroke="#777" stroke-width="0.35"/>
<text x="377.63" y="411.69" font-size="2.3" fill="#555" stroke="#777" stroke-width="0.15" text-anchor="end" dominant-baseline="central" transform="rotate(280.9 377.63 411.69)">20</text>
<line x1="372.04" y1="408.55" x2="371.7" y2="409.8" stroke="#777" stroke-width="0.35"/>
<text x="371.57" y="410.28" font-size="2.3" fill="#555" stroke="#777" stroke-width="0.15" text-anchor="end" dominant-baseline="central" transform="rotate(285.15 371.57 410.28)">30</text>
<line x1="366.23" y1="406.74" x2="365.8" y2="407.96" stroke="#777" stroke-width="0.35"/>
<text x="365.63" y="408.44" font-size="2.3" fill="#555" stroke="#777" stroke-width="0.15" text-anchor="end" dominant-baseline="central" transform="rotate(289.4 365.63 408.44)">40</text>
<path d="M363.65,405.46 A81.8,81.8 0 0 1 332.42,383.72 L335.26,381.19 A78.0,78.0 0 0 0 365.04,401.92 Z" fill="#84e252"/>
<line x1="363.54" y1="405.74" x2="363.07" y2="406.95" stroke="#777" stroke-width="0.35"/>
<text x="362.89" y="407.42" font-size="2.3" fill="#555" stroke="#777" stroke-width="0.15" text-anchor="end" dominant-baseline="central" transform="rotate(291.4 362.89 407.42)">0</text>
<line x1="357.66" y1="403.16" x2="357.09" y2="404.33" stroke="#777" stroke-width="0.35"/>
<text x="356.87" y="404.78" font-size="2.3" fill="#555" stroke="#777" stroke-width="0.15" text-anchor="end" dominant-baseline="central" transform="rotate(295.88 356.87 404.78)">10</text>
<line x1="352" y1="400.14" x2="351.34" y2="401.26" stroke="#777" stroke-width="0.35"/>
<text x="351.09" y="401.69" font-size="2.3" fill="#555" stroke="#777" stroke-width="0.15" text-anchor="end" dominant-baseline="central" transform="rotate(300.37 351.09 401.69)">20</text>
<line x1="346.59" y1="396.68" x2="345.84" y2="397.74" stroke="#777" stroke-width="0.35"/>
<text x="345.56" y="398.15" font-size="2.3" fill="#555" stroke="#777" stroke-width="0.15" text-anchor="end" dominant-baseline="central" transform="rotate(304.85 345.56 398.15)">30</text>
<line x1="341.46" y1="392.8" x2="340.64" y2="393.81" stroke="#777" stroke-width="0.35"/>
<text x="340.32" y="394.19" font-size="2.3" fill="#555" stroke="#777" stroke-width="0.15" text-anchor="end" dominant-baseline="central" transform="rotate(309.33 340.32 394.19)">40</text>
<line x1="336.66" y1="388.54" x2="335.76" y2="389.48" stroke="#777" stroke-width="0.35"/>
<text x="335.41" y="389.84" font-size="2.3" fill="#555" stroke="#777" stroke-width="0.15" text-anchor="end" dominant-baseline="central" transform="rotate(313.82 335.41 389.84)">50</text>
<line x1="332.2" y1="383.92" x2="331.23" y2="384.78" stroke="#777" stroke-width="0.35"/>
<text x="330.86" y="385.11" font-size="2.3" fill="#555" stroke="#777" stroke-width="0.15" text-anchor="end" dominant-baseline="central" transform="rotate(318.3 330.86 385.11)">60</text>
<path d="M330.65,381.66 A81.8,81.8 0 0 1 322.87,370.57 L326.16,368.65 A78.0,78.0 0 0 0 333.57,379.23 Z" fill="#96e44a"/>
<line x1="330.42" y1="381.85" x2="329.43" y2="382.69" stroke="#777" stroke-width="0.35"/>
<text x="329.04" y="383.01" font-size="2.3" fill="#555" stroke="#777" stroke-width="0.15" text-anchor="end" dominant-baseline="central" transform="rotate(320.2 329.04 383.01)">0</text>
<line x1="326.29" y1="376.45" x2="325.22" y2="377.2" stroke="#777" stroke-width="0.35"/>
<text x="324.82" y="377.48" font-size="2.3" fill="#555" stroke="#777" stroke-width="0.15" text-anchor="end" dominant-baseline="central" transform="rotate(324.95 324.82 377.48)">5</text>
<line x1="322.62" y1="370.72" x2="321.49" y2="371.38" stroke="#777" stroke-width="0.35"/>
<text x="321.06" y="371.63" font-size="2.3" fill="#555" stroke="#777" stroke-width="0.15" text-anchor="end" dominant-baseline="central" transform="rotate(329.7 321.06 371.63)">10</text>
<path d="M321.75,368.58 A81.8,81.8 0 0 1 316.78,357.68 L320.34,356.36 A78.0,78.0 0 0 0 325.08,366.76 Z" fill="#ade442"/>
<line x1="321.49" y1="368.73" x2="320.35" y2="369.35" stroke="#777" stroke-width="0.35"/>
<text x="319.91" y="369.59" font-size="2.3" fill="#555" stroke="#777" stroke-width="0.15" text-anchor="end" dominant-baseline="central" transform="rotate(331.3 319.91 369.59)">0</text>
<line x1="318.79" y1="363.35" x2="317.61" y2="363.89" stroke="#777" stroke-width="0.35"/>
<text x="317.15" y="364.09" font-size="2.3" fill="#555" stroke="#777" stroke-width="0.15" text-anchor="end" dominant-baseline="central" transform="rotate(335.5 317.15 364.09)">5</text>
<line x1="316.5" y1="357.78" x2="315.28" y2="358.23" stroke="#777" stroke-width="0.35"/>
<text x="314.81" y="358.41" font-size="2.3" fill="#555" stroke="#777" stroke-width="0.15" text-anchor="end" dominant-baseline="central" transform="rotate(339.7 314.81 358.41)">10</text>
<path d="M315.7,354.58 A81.8,81.8 0 0 1 315.84,303.62 L319.44,304.81 A78.0,78.0 0 0 0 319.32,353.4 Z" fill="#d8e634"/>
<line x1="315.42" y1="354.67" x2="314.18" y2="355.07" stroke="#777" stroke-width="0.35"/>
<text x="313.71" y="355.23" font-size="2.3" fill="#555" stroke="#777" stroke-width="0.15" text-anchor="end" dominant-baseline="central" transform="rotate(342 313.71 355.23)">0</text>
<line x1="313.83" y1="349.12" x2="312.57" y2="349.43" stroke="#777" stroke-width="0.35"/>
<text x="312.08" y="349.55" font-size="2.3" fill="#555" stroke="#777" stroke-width="0.15" text-anchor="end" dominant-baseline="central" transform="rotate(346.03 312.08 349.55)">10</text>
<line x1="312.63" y1="343.46" x2="311.35" y2="343.69" stroke="#777" stroke-width="0.35"/>
<text x="310.86" y="343.77" font-size="2.3" fill="#555" stroke="#777" stroke-width="0.15" text-anchor="end" dominant-baseline="central" transform="rotate(350.07 310.86 343.77)">20</text>
<line x1="311.83" y1="337.74" x2="310.54" y2="337.87" stroke="#777" stroke-width="0.35"/>
<text x="310.04" y="337.92" font-size="2.3" fill="#555" stroke="#777" stroke-width="0.15" text-anchor="end" dominant-baseline="central" transform="rotate(354.1 310.04 337.92)">30</text>
<line x1="311.44" y1="331.97" x2="310.14" y2="332.02" stroke="#777" stroke-width="0.35"/>
<text x="309.64" y="332.03" font-size="2.3" fill="#555" stroke="#777" stroke-width="0.15" text-anchor="end" dominant-baseline="central" transform="rotate(358.13 309.64 332.03)">40</text>
<line x1="311.46" y1="326.2" x2="310.16" y2="326.15" stroke="#777" stroke-width="0.35"/>
<text x="309.66" y="326.13" font-size="2.3" fill="#555" stroke="#777" stroke-width="0.15" text-anchor="end" dominant-baseline="central" transform="rotate(362.17 309.66 326.13)">50</text>
<line x1="311.88" y1="320.43" x2="310.59" y2="320.29" stroke="#777" stroke-width="0.35"/>
<text x="310.09" y="320.24" font-size="2.3" fill="#555" stroke="#777" stroke-width="0.15" text-anchor="end" dominant-baseline="central" transform="rotate(366.2 310.09 320.24)">60</text>
<line x1="312.71" y1="314.71" x2="311.43" y2="314.48" stroke="#777" stroke-width="0.35"/>
<text x="310.93" y="314.39" font-size="2.3" fill="#555" stroke="#777" stroke-width="0.15" text-anchor="end" dominant-baseline="central" transform="rotate(370.23 310.93 314.39)">70</text>
<line x1="313.93" y1="309.07" x2="312.67" y2="308.75" stroke="#777" stroke-width="0.35"/>
<text x="312.19" y="308.62" font-size="2.3" fill="#555" stroke="#777" stroke-width="0.15" text-anchor="end" dominant-baseline="central" transform="rotate(374.27 312.19 308.62)">80</text>
<line x1="315.55" y1="303.52" x2="314.32" y2="303.11" stroke="#777" stroke-width="0.35"/>
<text x="313.84" y="302.96" font-size="2.3" fill="#555" stroke="#777" stroke-width="0.15" text-anchor="end" dominant-baseline="central" transform="rotate(378.3 313.84 302.96)">90</text>
<path d="M316.88,300.65 A81.8,81.8 0 0 1 322.03,289.52 L325.35,291.37 A78.0,78.0 0 0 0 320.44,301.98 Z" fill="#e8b434"/>
<line x1="316.6" y1="300.55" x2="315.38" y2="300.09" stroke="#777" stroke-width="0.35"/>
<text x="314.91" y="299.92" font-size="2.3" fill="#555" stroke="#777" stroke-width="0.15" text-anchor="end" dominant-baseline="central" transform="rotate(380.5 314.91 299.92)">0</text>
<line x1="318.97" y1="294.86" x2="317.79" y2="294.32" stroke="#777" stroke-width="0.35"/>
<text x="317.34" y="294.11" font-size="2.3" fill="#555" stroke="#777" stroke-width="0.15" text-anchor="end" dominant-baseline="central" transform="rotate(384.8 317.34 294.11)">5</text>
<line x1="321.76" y1="289.37" x2="320.63" y2="288.74" stroke="#777" stroke-width="0.35"/>
<text x="320.19" y="288.5" font-size="2.3" fill="#555" stroke="#777" stroke-width="0.15" text-anchor="end" dominant-baseline="central" transform="rotate(389.1 320.19 288.5)">10</text>
<path d="M323.53,286.93 A81.8,81.8 0 0 1 326.99,281.68 L330.08,283.89 A78.0,78.0 0 0 0 326.78,288.89 Z" fill="#e8a432"/>
<line x1="323.27" y1="286.77" x2="322.16" y2="286.1" stroke="#777" stroke-width="0.35"/>
<text x="321.73" y="285.84" font-size="2.3" fill="#555" stroke="#777" stroke-width="0.15" text-anchor="end" dominant-baseline="central" transform="rotate(391.2 321.73 285.84)">0</text>
<line x1="324.96" y1="284.11" x2="323.87" y2="283.39" stroke="#777" stroke-width="0.35"/>
<text x="323.46" y="283.11" font-size="2.3" fill="#555" stroke="#777" stroke-width="0.15" text-anchor="end" dominant-baseline="central" transform="rotate(393.4 323.46 283.11)">5</text>
<line x1="326.74" y1="281.51" x2="325.69" y2="280.75" stroke="#777" stroke-width="0.35"/>
<text x="325.28" y="280.46" font-size="2.3" fill="#555" stroke="#777" stroke-width="0.15" text-anchor="end" dominant-baseline="central" transform="rotate(395.6 325.28 280.46)">10</text>
<path d="M328.26,279.96 A81.8,81.8 0 0 1 330.84,276.72 L333.75,279.16 A78.0,78.0 0 0 0 331.29,282.25 Z" fill="#e69430"/>
<line x1="328.02" y1="279.78" x2="326.98" y2="278.99" stroke="#777" stroke-width="0.35"/>
<text x="326.58" y="278.69" font-size="2.3" fill="#555" stroke="#777" stroke-width="0.15" text-anchor="end" dominant-baseline="central" transform="rotate(397.1 326.58 278.69)">0</text>
<line x1="329.29" y1="278.14" x2="328.28" y2="277.33" stroke="#777" stroke-width="0.35"/>
<text x="327.88" y="277.01" font-size="2.3" fill="#555" stroke="#777" stroke-width="0.15" text-anchor="end" dominant-baseline="central" transform="rotate(398.55 327.88 277.01)">5</text>
<line x1="330.61" y1="276.53" x2="329.61" y2="275.69" stroke="#777" stroke-width="0.35"/>
<text x="329.23" y="275.37" font-size="2.3" fill="#555" stroke="#777" stroke-width="0.15" text-anchor="end" dominant-baseline="central" transform="rotate(400 329.23 275.37)">10</text>
<path d="M332.42,274.88 A81.8,81.8 0 0 1 338.87,268.42 L341.41,271.24 A78.0,78.0 0 0 0 335.26,277.41 Z" fill="#e2842e"/>
<line x1="332.2" y1="274.68" x2="331.23" y2="273.82" stroke="#777" stroke-width="0.35"/>
<text x="330.86" y="273.49" font-size="2.3" fill="#555" stroke="#777" stroke-width="0.15" text-anchor="end" dominant-baseline="central" transform="rotate(401.7 330.86 273.49)">0</text>
<line x1="335.35" y1="271.35" x2="334.42" y2="270.43" stroke="#777" stroke-width="0.35"/>
<text x="334.07" y="270.08" font-size="2.3" fill="#555" stroke="#777" stroke-width="0.15" text-anchor="end" dominant-baseline="central" transform="rotate(404.9 334.07 270.08)">5</text>
<line x1="338.67" y1="268.19" x2="337.8" y2="267.22" stroke="#777" stroke-width="0.35"/>
<text x="337.47" y="266.85" font-size="2.3" fill="#555" stroke="#777" stroke-width="0.15" text-anchor="end" dominant-baseline="central" transform="rotate(408.1 337.47 266.85)">10</text>
<path d="M341.69,266 A81.8,81.8 0 0 1 349.79,260.16 L351.82,263.37 A78.0,78.0 0 0 0 344.1,268.94 Z" fill="#de702c"/>
<line x1="341.5" y1="265.77" x2="340.68" y2="264.76" stroke="#777" stroke-width="0.35"/>
<text x="340.36" y="264.37" font-size="2.3" fill="#555" stroke="#777" stroke-width="0.15" text-anchor="end" dominant-baseline="central" transform="rotate(410.7 340.36 264.37)">0</text>
<line x1="345.47" y1="262.71" x2="344.71" y2="261.66" stroke="#777" stroke-width="0.35"/>
<text x="344.42" y="261.25" font-size="2.3" fill="#555" stroke="#777" stroke-width="0.15" text-anchor="end" dominant-baseline="central" transform="rotate(414.2 344.42 261.25)">5</text>
<line x1="349.63" y1="259.9" x2="348.94" y2="258.81" stroke="#777" stroke-width="0.35"/>
<text x="348.67" y="258.38" font-size="2.3" fill="#555" stroke="#777" stroke-width="0.15" text-anchor="end" dominant-baseline="central" transform="rotate(417.7 348.67 258.38)">10</text>
<path d="M351.61,259.04 A81.8,81.8 0 0 1 359.19,255.04 L360.78,258.49 A78.0,78.0 0 0 0 353.56,262.3 Z" fill="#da5a2a"/>
<line x1="351.46" y1="258.78" x2="350.8" y2="257.66" stroke="#777" stroke-width="0.35"/>
<text x="350.54" y="257.23" font-size="2.3" fill="#555" stroke="#777" stroke-width="0.15" text-anchor="end" dominant-baseline="central" transform="rotate(419.2 350.54 257.23)">0</text>
<line x1="355.21" y1="256.68" x2="354.6" y2="255.53" stroke="#777" stroke-width="0.35"/>
<text x="354.37" y="255.08" font-size="2.3" fill="#555" stroke="#777" stroke-width="0.15" text-anchor="end" dominant-baseline="central" transform="rotate(422.2 354.37 255.08)">5</text>
<line x1="359.06" y1="254.77" x2="358.52" y2="253.59" stroke="#777" stroke-width="0.35"/>
<text x="358.31" y="253.14" font-size="2.3" fill="#555" stroke="#777" stroke-width="0.15" text-anchor="end" dominant-baseline="central" transform="rotate(425.2 358.31 253.14)">10</text>
<path d="M362.2,253.73 A81.8,81.8 0 0 1 390.93,247.54 L391.05,251.34 A78.0,78.0 0 0 0 363.65,257.24 Z" fill="#d42a24"/>
<line x1="362.08" y1="253.45" x2="361.58" y2="252.25" stroke="#777" stroke-width="0.35"/>
<text x="361.39" y="251.79" font-size="2.3" fill="#555" stroke="#777" stroke-width="0.15" text-anchor="end" dominant-baseline="central" transform="rotate(427.5 361.39 251.79)">0</text>
<line x1="367.64" y1="251.38" x2="367.23" y2="250.15" stroke="#777" stroke-width="0.35"/>
<text x="367.07" y="249.67" font-size="2.3" fill="#555" stroke="#777" stroke-width="0.15" text-anchor="end" dominant-baseline="central" transform="rotate(431.64 367.07 249.67)">10</text>
<line x1="373.33" y1="249.72" x2="373.01" y2="248.46" stroke="#777" stroke-width="0.35"/>
<text x="372.89" y="247.97" font-size="2.3" fill="#555" stroke="#777" stroke-width="0.15" text-anchor="end" dominant-baseline="central" transform="rotate(435.78 372.89 247.97)">20</text>
<line x1="379.13" y1="248.47" x2="378.9" y2="247.19" stroke="#777" stroke-width="0.35"/>
<text x="378.82" y="246.7" font-size="2.3" fill="#555" stroke="#777" stroke-width="0.15" text-anchor="end" dominant-baseline="central" transform="rotate(439.92 378.82 246.7)">30</text>
<line x1="385" y1="247.64" x2="384.87" y2="246.35" stroke="#777" stroke-width="0.35"/>
<text x="384.82" y="245.85" font-size="2.3" fill="#555" stroke="#777" stroke-width="0.15" text-anchor="end" dominant-baseline="central" transform="rotate(444.06 384.82 245.85)">40</text>
<line x1="390.92" y1="247.24" x2="390.88" y2="245.94" stroke="#777" stroke-width="0.35"/>
<text x="390.86" y="245.44" font-size="2.3" fill="#555" stroke="#777" stroke-width="0.15" text-anchor="end" dominant-baseline="central" transform="rotate(448.2 390.86 245.44)">50</text>
<path d="M393.91,251.6 A77.7,77.7 0 0 1 409.65,253.3 L409.36,254.67 A76.3,76.3 0 0 0 393.9,253 Z" fill="#b8b030"/>
<path d="M409.65,253.3 A77.7,77.7 0 0 1 416.22,255 L415.81,256.33 A76.3,76.3 0 0 0 409.36,254.67 Z" fill="#d07020"/>
<path d="M416.22,255 A77.7,77.7 0 0 1 418.8,255.83 L418.34,257.16 A76.3,76.3 0 0 0 415.81,256.33 Z" fill="#78d040"/>
<path d="M418.8,255.83 A77.7,77.7 0 0 1 420.71,256.52 L420.22,257.83 A76.3,76.3 0 0 0 418.34,257.16 Z" fill="#c82020"/>
<path d="M420.71,256.52 A77.7,77.7 0 0 1 427.56,259.46 L426.95,260.72 A76.3,76.3 0 0 0 420.22,257.83 Z" fill="#d0d030"/>
<path d="M427.56,259.46 A77.7,77.7 0 0 1 436.16,264.36 L435.39,265.53 A76.3,76.3 0 0 0 426.95,260.72 Z" fill="#78d040"/>
<path d="M438.29,265.81 A77.7,77.7 0 0 1 446.49,272.47 L445.54,273.5 A76.3,76.3 0 0 0 437.48,266.95 Z" fill="#78d040"/>
<path d="M446.49,272.47 A77.7,77.7 0 0 1 450.69,276.71 L449.66,277.65 A76.3,76.3 0 0 0 445.54,273.5 Z" fill="#d0d030"/>
<path d="M452.58,278.84 A77.7,77.7 0 0 1 459.39,288.13 L458.21,288.87 A76.3,76.3 0 0 0 451.52,279.75 Z" fill="#c82020"/>
<path d="M459.39,288.13 A77.7,77.7 0 0 1 464.48,297.7 L463.2,298.27 A76.3,76.3 0 0 0 458.21,288.87 Z" fill="#d0d030"/>
<path d="M464.48,297.7 A77.7,77.7 0 0 1 470.02,315.81 L468.64,316.05 A76.3,76.3 0 0 0 463.2,298.27 Z" fill="#78d040"/>
<path d="M470.44,318.49 A77.7,77.7 0 0 1 470.62,338.77 L469.23,338.6 A76.3,76.3 0 0 0 469.06,318.68 Z" fill="#d0d030"/>
<path d="M470.62,338.77 A77.7,77.7 0 0 1 466.97,354.6 L465.64,354.14 A76.3,76.3 0 0 0 469.23,338.6 Z" fill="#c82020"/>
<path d="M466.97,354.6 A77.7,77.7 0 0 1 434.67,395.19 L433.93,394.01 A76.3,76.3 0 0 0 465.64,354.14 Z" fill="#78d040"/>
<path d="M434.67,395.19 A77.7,77.7 0 0 1 427.56,399.14 L426.95,397.88 A76.3,76.3 0 0 0 433.93,394.01 Z" fill="#d0d030"/>
<path d="M427.56,399.14 A77.7,77.7 0 0 1 420.07,402.31 L419.6,401 A76.3,76.3 0 0 0 426.95,397.88 Z" fill="#d07020"/>
<path d="M420.07,402.31 A77.7,77.7 0 0 1 409.39,405.36 L409.1,403.99 A76.3,76.3 0 0 0 419.6,401 Z" fill="#b06020"/>
<path d="M393.67,233.6 A95.7,95.7 0 0 1 423.07,238.28 L422.52,240 A93.9,93.9 0 0 0 393.66,235.4 Z" fill="#c4d43a"/>
<path d="M423.07,238.28 A95.7,95.7 0 0 1 427.8,239.96 L427.15,241.64 A93.9,93.9 0 0 0 422.52,240 Z" fill="#d07020"/>
<path d="M427.8,239.96 A95.7,95.7 0 0 1 430.89,241.21 L430.19,242.86 A93.9,93.9 0 0 0 427.15,241.64 Z" fill="#78d040"/>
<path d="M430.89,241.21 A95.7,95.7 0 0 1 433.19,242.22 L432.44,243.85 A93.9,93.9 0 0 0 430.19,242.86 Z" fill="#c82020"/>
<path d="M433.19,242.22 A95.7,95.7 0 0 1 436.95,244.03 L436.13,245.63 A93.9,93.9 0 0 0 432.44,243.85 Z" fill="#d07020"/>
<path d="M436.95,244.03 A95.7,95.7 0 0 1 441.35,246.42 L440.45,247.98 A93.9,93.9 0 0 0 436.13,245.63 Z" fill="#78d040"/>
<path d="M441.35,246.42 A95.7,95.7 0 0 1 446.46,249.59 L445.46,251.09 A93.9,93.9 0 0 0 440.45,247.98 Z" fill="#a8d838"/>
<path d="M448.25,250.81 A95.7,95.7 0 0 1 459.98,260.46 L458.73,261.75 A93.9,93.9 0 0 0 447.22,252.29 Z" fill="#78d040"/>
<path d="M459.98,260.46 A95.7,95.7 0 0 1 464.28,264.89 L462.95,266.1 A93.9,93.9 0 0 0 458.73,261.75 Z" fill="#d0d030"/>
<path d="M465.94,266.77 A95.7,95.7 0 0 1 478,284.37 L476.41,285.22 A93.9,93.9 0 0 0 464.58,267.94 Z" fill="#c82020"/>
<path d="M478,284.37 A95.7,95.7 0 0 1 480.93,290.38 L479.28,291.11 A93.9,93.9 0 0 0 476.41,285.22 Z" fill="#d0d030"/>
<path d="M480.93,290.38 A95.7,95.7 0 0 1 485.02,301.32 L483.3,301.85 A93.9,93.9 0 0 0 479.28,291.11 Z" fill="#78d040"/>
<path d="M485.02,301.32 A95.7,95.7 0 0 1 486.36,306.15 L484.61,306.58 A93.9,93.9 0 0 0 483.3,301.85 Z" fill="#a8d838"/>
<path d="M486.36,306.15 A95.7,95.7 0 0 1 487.28,310.22 L485.51,310.58 A93.9,93.9 0 0 0 484.61,306.58 Z" fill="#d07020"/>
<path d="M487.28,310.22 A95.7,95.7 0 0 1 487.83,313.18 L486.06,313.48 A93.9,93.9 0 0 0 485.51,310.58 Z" fill="#c82020"/>
<path d="M488.2,315.49 A95.7,95.7 0 0 1 488.58,340.13 L486.8,339.93 A93.9,93.9 0 0 0 486.42,315.74 Z" fill="#d0d030"/>
<path d="M488.58,340.13 A95.7,95.7 0 0 1 482.84,363.6 L481.16,362.95 A93.9,93.9 0 0 0 486.8,339.93 Z" fill="#c82020"/>
<path d="M482.84,363.6 A95.7,95.7 0 0 1 447.01,408.64 L446.01,407.15 A93.9,93.9 0 0 0 481.16,362.95 Z" fill="#78d040"/>
<path d="M447.01,408.64 A95.7,95.7 0 0 1 441.35,412.18 L440.45,410.62 A93.9,93.9 0 0 0 446.01,407.15 Z" fill="#a8d838"/>
<path d="M441.35,412.18 A95.7,95.7 0 0 1 436.95,414.57 L436.13,412.97 A93.9,93.9 0 0 0 440.45,410.62 Z" fill="#d0d030"/>
<path d="M436.95,414.57 A95.7,95.7 0 0 1 431.66,417.06 L430.94,415.41 A93.9,93.9 0 0 0 436.13,412.97 Z" fill="#d07020"/>
<path d="M431.66,417.06 A95.7,95.7 0 0 1 428.26,418.46 L427.61,416.79 A93.9,93.9 0 0 0 430.94,415.41 Z" fill="#c85020"/>
<path d="M410.12,423.55 A95.7,95.7 0 0 1 398.51,424.87 L398.41,423.07 A93.9,93.9 0 0 0 409.81,421.77 Z" fill="#6ec6e2"/>
<path d="M398.51,424.87 A95.7,95.7 0 0 1 392.5,424.99 L392.52,423.19 A93.9,93.9 0 0 0 398.41,423.07 Z" fill="#3434e4"/>
<path d="M389.83,424.93 A95.7,95.7 0 0 1 374.58,423.11 L374.94,421.35 A93.9,93.9 0 0 0 389.9,423.13 Z" fill="#8a3ae4"/>
<path d="M374.58,423.11 A95.7,95.7 0 0 1 362.34,419.79 L362.93,418.08 A93.9,93.9 0 0 0 374.94,421.35 Z" fill="#6ec6e2"/>
<path d="M363.13,420.05 A95.7,95.7 0 0 1 361.4,419.45 L362,417.76 A93.9,93.9 0 0 0 363.71,418.35 Z" fill="#c63ae4"/>
<path d="M358.89,418.52 A95.7,95.7 0 0 1 341.38,409.56 L342.36,408.05 A93.9,93.9 0 0 0 359.54,416.85 Z" fill="#6ec6e2"/>
<path d="M341.38,409.56 A95.7,95.7 0 0 1 332.5,403.04 L333.65,401.65 A93.9,93.9 0 0 0 342.36,408.05 Z" fill="#3434e4"/>
<path d="M332.5,403.04 A95.7,95.7 0 0 1 321.82,392.71 L323.17,391.52 A93.9,93.9 0 0 0 333.65,401.65 Z" fill="#c63ae4"/>
<path d="M320.19,390.81 A95.7,95.7 0 0 1 313.42,381.7 L314.93,380.72 A93.9,93.9 0 0 0 321.57,389.66 Z" fill="#6ec6e2"/>
<path d="M313.42,381.7 A95.7,95.7 0 0 1 312.25,379.87 L313.78,378.92 A93.9,93.9 0 0 0 314.93,380.72 Z" fill="#3434e4"/>
<path d="M312.25,379.87 A95.7,95.7 0 0 1 310.71,377.29 L312.26,376.39 A93.9,93.9 0 0 0 313.78,378.92 Z" fill="#c63ae4"/>
<path d="M309.72,375.55 A95.7,95.7 0 0 1 304.83,365.3 L306.5,364.63 A93.9,93.9 0 0 0 311.29,374.68 Z" fill="#6ec6e2"/>
<path d="M304.83,365.3 A95.7,95.7 0 0 1 303.63,362.19 L305.32,361.57 A93.9,93.9 0 0 0 306.5,364.63 Z" fill="#c63ae4"/>
<path d="M302.59,359.19 A95.7,95.7 0 0 1 297.81,330.97 L299.61,330.94 A93.9,93.9 0 0 0 304.3,358.63 Z" fill="#6ec6e2"/>
<path d="M297.81,330.97 A95.7,95.7 0 0 1 299.75,310.06 L301.52,310.42 A93.9,93.9 0 0 0 299.61,330.94 Z" fill="#c63ae4"/>
<path d="M299.75,310.06 A95.7,95.7 0 0 1 302.75,298.93 L304.45,299.51 A93.9,93.9 0 0 0 301.52,310.42 Z" fill="#3434e4"/>
<path d="M303.74,296.1 A95.7,95.7 0 0 1 306.35,289.77 L307.99,290.51 A93.9,93.9 0 0 0 305.43,296.72 Z" fill="#3434e4"/>
<path d="M306.35,289.77 A95.7,95.7 0 0 1 309.32,283.78 L310.9,284.64 A93.9,93.9 0 0 0 307.99,290.51 Z" fill="#6ec6e2"/>
<path d="M309.32,283.78 A95.7,95.7 0 0 1 310.04,282.47 L311.61,283.35 A93.9,93.9 0 0 0 310.9,284.64 Z" fill="#c63ae4"/>
<path d="M311.47,280.01 A95.7,95.7 0 0 1 315.88,273.32 L317.34,274.37 A93.9,93.9 0 0 0 313.01,280.94 Z" fill="#6ec6e2"/>
<path d="M316.97,271.84 A95.7,95.7 0 0 1 320.4,267.53 L321.78,268.69 A93.9,93.9 0 0 0 318.41,272.92 Z" fill="#c63ae4"/>
<path d="M321.82,265.89 A95.7,95.7 0 0 1 328.36,259.2 L329.58,260.51 A93.9,93.9 0 0 0 323.17,267.08 Z" fill="#c63ae4"/>
<path d="M328.36,259.2 A95.7,95.7 0 0 1 329.84,257.85 L331.03,259.19 A93.9,93.9 0 0 0 329.58,260.51 Z" fill="#3434e4"/>
<path d="M332.63,255.46 A95.7,95.7 0 0 1 337.52,251.68 L338.57,253.14 A93.9,93.9 0 0 0 333.77,256.84 Z" fill="#c63ae4"/>
<path d="M337.52,251.68 A95.7,95.7 0 0 1 341.52,248.95 L342.5,250.46 A93.9,93.9 0 0 0 338.57,253.14 Z" fill="#6ec6e2"/>
<path d="M341.52,248.95 A95.7,95.7 0 0 1 342.65,248.23 L343.6,249.76 A93.9,93.9 0 0 0 342.5,250.46 Z" fill="#3434e4"/>
<path d="M344.21,247.27 A95.7,95.7 0 0 1 350.35,243.88 L351.16,245.49 A93.9,93.9 0 0 0 345.14,248.81 Z" fill="#3434e4"/>
<path d="M350.35,243.88 A95.7,95.7 0 0 1 353.66,242.29 L354.41,243.92 A93.9,93.9 0 0 0 351.16,245.49 Z" fill="#6ec6e2"/>
<path d="M356.57,241.01 A95.7,95.7 0 0 1 376.88,235.05 L377.19,236.83 A93.9,93.9 0 0 0 357.26,242.67 Z" fill="#6ec6e2"/>
<path d="M376.88,235.05 A95.7,95.7 0 0 1 390.83,233.64 L390.88,235.44 A93.9,93.9 0 0 0 377.19,236.83 Z" fill="#3434e4"/>
<line x1="393.5" y1="233.3" x2="393.5" y2="231" stroke="#777" stroke-width="0.35"/>
<text x="393.5" y="230.5" font-size="2.4" fill="#555" stroke="#777" stroke-width="0.15" text-anchor="start" dominant-baseline="central" transform="rotate(-90 393.5 230.5)">0%</text>
<line x1="399.13" y1="233.47" x2="399.26" y2="231.17" stroke="#777" stroke-width="0.35"/>
<text x="399.29" y="230.67" font-size="2.4" fill="#555" stroke="#777" stroke-width="0.15" text-anchor="start" dominant-baseline="central" transform="rotate(-86.64 399.29 230.67)">10%</text>
<line x1="404.73" y1="233.96" x2="405" y2="231.68" stroke="#777" stroke-width="0.35"/>
<text x="405.06" y="231.18" font-size="2.4" fill="#555" stroke="#777" stroke-width="0.15" text-anchor="start" dominant-baseline="central" transform="rotate(-83.28 405.06 231.18)">20%</text>
<line x1="410.3" y1="234.78" x2="410.7" y2="232.52" stroke="#777" stroke-width="0.35"/>
<text x="410.79" y="232.03" font-size="2.4" fill="#555" stroke="#777" stroke-width="0.15" text-anchor="start" dominant-baseline="central" transform="rotate(-79.92 410.79 232.03)">30%</text>
<line x1="415.81" y1="235.93" x2="416.35" y2="233.69" stroke="#777" stroke-width="0.35"/>
<text x="416.46" y="233.21" font-size="2.4" fill="#555" stroke="#777" stroke-width="0.15" text-anchor="start" dominant-baseline="central" transform="rotate(-76.56 416.46 233.21)">40%</text>
<line x1="421.25" y1="237.4" x2="421.91" y2="235.2" stroke="#777" stroke-width="0.35"/>
<text x="422.06" y="234.72" font-size="2.4" fill="#555" stroke="#777" stroke-width="0.15" text-anchor="start" dominant-baseline="central" transform="rotate(-73.2 422.06 234.72)">50%</text>
<line x1="426.59" y1="239.18" x2="427.38" y2="237.02" stroke="#777" stroke-width="0.35"/>
<text x="427.55" y="236.55" font-size="2.4" fill="#555" stroke="#777" stroke-width="0.15" text-anchor="start" dominant-baseline="central" transform="rotate(-69.84 427.55 236.55)">60%</text>
<line x1="431.81" y1="241.28" x2="432.73" y2="239.17" stroke="#777" stroke-width="0.35"/>
<text x="432.93" y="238.71" font-size="2.4" fill="#555" stroke="#777" stroke-width="0.15" text-anchor="start" dominant-baseline="central" transform="rotate(-66.48 432.93 238.71)">70%</text>
<line x1="436.9" y1="243.67" x2="437.94" y2="241.62" stroke="#777" stroke-width="0.35"/>
<text x="438.17" y="241.17" font-size="2.4" fill="#555" stroke="#777" stroke-width="0.15" text-anchor="start" dominant-baseline="central" transform="rotate(-63.12 438.17 241.17)">80%</text>
<line x1="441.85" y1="246.36" x2="443.01" y2="244.38" stroke="#777" stroke-width="0.35"/>
<text x="443.26" y="243.94" font-size="2.4" fill="#555" stroke="#777" stroke-width="0.15" text-anchor="start" dominant-baseline="central" transform="rotate(-59.76 443.26 243.94)">90%</text>
<line x1="446.63" y1="249.34" x2="447.9" y2="247.42" stroke="#777" stroke-width="0.35"/>
<text x="448.18" y="247.01" font-size="2.4" fill="#555" stroke="#777" stroke-width="0.15" text-anchor="start" dominant-baseline="central" transform="rotate(-56.4 448.18 247.01)">100%</text>
<line x1="448.43" y1="250.57" x2="449.74" y2="248.68" stroke="#777" stroke-width="0.35"/>
<text x="450.03" y="248.27" font-size="2.4" fill="#555" stroke="#777" stroke-width="0.15" text-anchor="start" dominant-baseline="central" transform="rotate(-55.1 450.03 248.27)">0%</text>
<line x1="451.89" y1="253.1" x2="453.29" y2="251.27" stroke="#777" stroke-width="0.35"/>
<text x="453.59" y="250.87" font-size="2.4" fill="#555" stroke="#777" stroke-width="0.15" text-anchor="start" dominant-baseline="central" transform="rotate(-52.54 453.59 250.87)">20%</text>
<line x1="455.23" y1="255.78" x2="456.71" y2="254.02" stroke="#777" stroke-width="0.35"/>
<text x="457.03" y="253.64" font-size="2.4" fill="#555" stroke="#777" stroke-width="0.15" text-anchor="start" dominant-baseline="central" transform="rotate(-49.98 457.03 253.64)">40%</text>
<line x1="458.46" y1="258.61" x2="460.01" y2="256.92" stroke="#777" stroke-width="0.35"/>
<text x="460.35" y="256.55" font-size="2.4" fill="#555" stroke="#777" stroke-width="0.15" text-anchor="start" dominant-baseline="central" transform="rotate(-47.42 460.35 256.55)">60%</text>
<line x1="461.55" y1="261.58" x2="463.18" y2="259.96" stroke="#777" stroke-width="0.35"/>
<text x="463.53" y="259.61" font-size="2.4" fill="#555" stroke="#777" stroke-width="0.15" text-anchor="start" dominant-baseline="central" transform="rotate(-44.86 463.53 259.61)">80%</text>
<line x1="464.5" y1="264.69" x2="466.21" y2="263.14" stroke="#777" stroke-width="0.35"/>
<text x="466.58" y="262.81" font-size="2.4" fill="#555" stroke="#777" stroke-width="0.15" text-anchor="start" dominant-baseline="central" transform="rotate(-42.3 466.58 262.81)">100%</text>
<line x1="466.17" y1="266.57" x2="467.91" y2="265.07" stroke="#777" stroke-width="0.35"/>
<text x="468.29" y="264.74" font-size="2.4" fill="#555" stroke="#777" stroke-width="0.15" text-anchor="start" dominant-baseline="central" transform="rotate(-40.8 468.29 264.74)">0%</text>
<line x1="469.47" y1="270.61" x2="471.29" y2="269.2" stroke="#777" stroke-width="0.35"/>
<text x="471.68" y="268.89" font-size="2.4" fill="#555" stroke="#777" stroke-width="0.15" text-anchor="start" dominant-baseline="central" transform="rotate(-37.69 471.68 268.89)">10%</text>
<line x1="472.54" y1="274.81" x2="474.43" y2="273.51" stroke="#777" stroke-width="0.35"/>
<text x="474.85" y="273.23" font-size="2.4" fill="#555" stroke="#777" stroke-width="0.15" text-anchor="start" dominant-baseline="central" transform="rotate(-34.58 474.85 273.23)">20%</text>
<line x1="475.38" y1="279.18" x2="477.34" y2="277.98" stroke="#777" stroke-width="0.35"/>
<text x="477.77" y="277.72" font-size="2.4" fill="#555" stroke="#777" stroke-width="0.15" text-anchor="start" dominant-baseline="central" transform="rotate(-31.47 477.77 277.72)">30%</text>
<line x1="477.98" y1="283.7" x2="480" y2="282.61" stroke="#777" stroke-width="0.35"/>
<text x="480.44" y="282.37" font-size="2.4" fill="#555" stroke="#777" stroke-width="0.15" text-anchor="start" dominant-baseline="central" transform="rotate(-28.36 480.44 282.37)">40%</text>
<line x1="480.33" y1="288.35" x2="482.41" y2="287.37" stroke="#777" stroke-width="0.35"/>
<text x="482.86" y="287.16" font-size="2.4" fill="#555" stroke="#777" stroke-width="0.15" text-anchor="start" dominant-baseline="central" transform="rotate(-25.25 482.86 287.16)">50%</text>
<line x1="482.42" y1="293.12" x2="484.55" y2="292.25" stroke="#777" stroke-width="0.35"/>
<text x="485.02" y="292.07" font-size="2.4" fill="#555" stroke="#777" stroke-width="0.15" text-anchor="start" dominant-baseline="central" transform="rotate(-22.14 485.02 292.07)">60%</text>
<line x1="484.25" y1="298" x2="486.43" y2="297.25" stroke="#777" stroke-width="0.35"/>
<text x="486.9" y="297.08" font-size="2.4" fill="#555" stroke="#777" stroke-width="0.15" text-anchor="start" dominant-baseline="central" transform="rotate(-19.03 486.9 297.08)">70%</text>
<line x1="485.82" y1="302.97" x2="488.03" y2="302.34" stroke="#777" stroke-width="0.35"/>
<text x="488.51" y="302.2" font-size="2.4" fill="#555" stroke="#777" stroke-width="0.15" text-anchor="start" dominant-baseline="central" transform="rotate(-15.92 488.51 302.2)">80%</text>
<line x1="487.11" y1="308.02" x2="489.35" y2="307.51" stroke="#777" stroke-width="0.35"/>
<text x="489.84" y="307.39" font-size="2.4" fill="#555" stroke="#777" stroke-width="0.15" text-anchor="start" dominant-baseline="central" transform="rotate(-12.81 489.84 307.39)">90%</text>
<line x1="488.13" y1="313.13" x2="490.39" y2="312.74" stroke="#777" stroke-width="0.35"/>
<text x="490.89" y="312.65" font-size="2.4" fill="#555" stroke="#777" stroke-width="0.15" text-anchor="start" dominant-baseline="central" transform="rotate(-9.7 490.89 312.65)">100%</text>
<line x1="488.49" y1="315.44" x2="490.77" y2="315.11" stroke="#777" stroke-width="0.35"/>
<text x="491.27" y="315.04" font-size="2.4" fill="#555" stroke="#777" stroke-width="0.15" text-anchor="start" dominant-baseline="central" transform="rotate(-8.3 491.27 315.04)">0%</text>
<line x1="489.5" y1="329.94" x2="491.8" y2="329.95" stroke="#777" stroke-width="0.35"/>
<text x="492.3" y="329.96" font-size="2.4" fill="#555" stroke="#777" stroke-width="0.15" text-anchor="start" dominant-baseline="central" transform="rotate(0.38 492.3 329.96)">10%</text>
<line x1="488.3" y1="344.42" x2="490.57" y2="344.78" stroke="#777" stroke-width="0.35"/>
<text x="491.07" y="344.86" font-size="2.4" fill="#555" stroke="#777" stroke-width="0.15" text-anchor="start" dominant-baseline="central" transform="rotate(9.06 491.07 344.86)">20%</text>
<line x1="484.94" y1="358.55" x2="487.13" y2="359.25" stroke="#777" stroke-width="0.35"/>
<text x="487.6" y="359.4" font-size="2.4" fill="#555" stroke="#777" stroke-width="0.15" text-anchor="start" dominant-baseline="central" transform="rotate(17.74 487.6 359.4)">30%</text>
<line x1="479.47" y1="372.01" x2="481.53" y2="373.04" stroke="#777" stroke-width="0.35"/>
<text x="481.98" y="373.26" font-size="2.4" fill="#555" stroke="#777" stroke-width="0.15" text-anchor="start" dominant-baseline="central" transform="rotate(26.42 481.98 373.26)">40%</text>
<line x1="472.04" y1="384.5" x2="473.92" y2="385.82" stroke="#777" stroke-width="0.35"/>
<text x="474.33" y="386.11" font-size="2.4" fill="#555" stroke="#777" stroke-width="0.15" text-anchor="start" dominant-baseline="central" transform="rotate(35.1 474.33 386.11)">50%</text>
<line x1="462.81" y1="395.72" x2="464.47" y2="397.31" stroke="#777" stroke-width="0.35"/>
<text x="464.83" y="397.66" font-size="2.4" fill="#555" stroke="#777" stroke-width="0.15" text-anchor="start" dominant-baseline="central" transform="rotate(43.78 464.83 397.66)">60%</text>
<line x1="451.99" y1="405.42" x2="453.4" y2="407.24" stroke="#777" stroke-width="0.35"/>
<text x="453.7" y="407.64" font-size="2.4" fill="#555" stroke="#777" stroke-width="0.15" text-anchor="start" dominant-baseline="central" transform="rotate(52.46 453.7 407.64)">70%</text>
<line x1="439.84" y1="413.38" x2="440.95" y2="415.39" stroke="#777" stroke-width="0.35"/>
<text x="441.19" y="415.83" font-size="2.4" fill="#555" stroke="#777" stroke-width="0.15" text-anchor="start" dominant-baseline="central" transform="rotate(61.14 441.19 415.83)">80%</text>
<line x1="426.62" y1="419.41" x2="427.41" y2="421.57" stroke="#777" stroke-width="0.35"/>
<text x="427.58" y="422.04" font-size="2.4" fill="#555" stroke="#777" stroke-width="0.15" text-anchor="start" dominant-baseline="central" transform="rotate(69.82 427.58 422.04)">90%</text>
<line x1="412.64" y1="423.37" x2="413.1" y2="425.63" stroke="#777" stroke-width="0.35"/>
<text x="413.2" y="426.12" font-size="2.4" fill="#555" stroke="#777" stroke-width="0.15" text-anchor="start" dominant-baseline="central" transform="rotate(78.5 413.2 426.12)">100%</text>
<line x1="410.34" y1="423.81" x2="410.74" y2="426.08" stroke="#777" stroke-width="0.35"/>
<text x="410.83" y="426.57" font-size="2.4" fill="#555" stroke="#777" stroke-width="0.15" text-anchor="start" dominant-baseline="central" transform="rotate(79.9 410.83 426.57)">0%</text>
<line x1="406.76" y1="424.38" x2="407.08" y2="426.66" stroke="#777" stroke-width="0.35"/>
<text x="407.15" y="427.15" font-size="2.4" fill="#555" stroke="#777" stroke-width="0.15" text-anchor="start" dominant-baseline="central" transform="rotate(82.06 407.15 427.15)">20%</text>
<line x1="403.17" y1="424.81" x2="403.4" y2="427.1" stroke="#777" stroke-width="0.35"/>
<text x="403.45" y="427.6" font-size="2.4" fill="#555" stroke="#777" stroke-width="0.15" text-anchor="start" dominant-baseline="central" transform="rotate(84.22 403.45 427.6)">40%</text>
<line x1="399.56" y1="425.11" x2="399.71" y2="427.4" stroke="#777" stroke-width="0.35"/>
<text x="399.74" y="427.9" font-size="2.4" fill="#555" stroke="#777" stroke-width="0.15" text-anchor="start" dominant-baseline="central" transform="rotate(86.38 399.74 427.9)">60%</text>
<line x1="395.95" y1="425.27" x2="396" y2="427.57" stroke="#777" stroke-width="0.35"/>
<text x="396.02" y="428.07" font-size="2.4" fill="#555" stroke="#777" stroke-width="0.15" text-anchor="start" dominant-baseline="central" transform="rotate(88.54 396.02 428.07)">80%</text>
<line x1="392.33" y1="425.29" x2="392.3" y2="427.59" stroke="#777" stroke-width="0.35"/>
<text x="392.29" y="428.09" font-size="2.4" fill="#555" stroke="#777" stroke-width="0.15" text-anchor="end" dominant-baseline="central" transform="rotate(270.7 392.29 428.09)">100%</text>
<line x1="389.98" y1="425.24" x2="389.9" y2="427.53" stroke="#777" stroke-width="0.35"/>
<text x="389.88" y="428.03" font-size="2.4" fill="#555" stroke="#777" stroke-width="0.15" text-anchor="end" dominant-baseline="central" transform="rotate(272.1 389.88 428.03)">0%</text>
<line x1="387.04" y1="425.08" x2="386.88" y2="427.38" stroke="#777" stroke-width="0.35"/>
<text x="386.85" y="427.88" font-size="2.4" fill="#555" stroke="#777" stroke-width="0.15" text-anchor="end" dominant-baseline="central" transform="rotate(273.86 386.85 427.88)">10%</text>
<line x1="384.1" y1="424.84" x2="383.87" y2="427.13" stroke="#777" stroke-width="0.35"/>
<text x="383.82" y="427.63" font-size="2.4" fill="#555" stroke="#777" stroke-width="0.15" text-anchor="end" dominant-baseline="central" transform="rotate(275.62 383.82 427.63)">20%</text>
<line x1="381.17" y1="424.5" x2="380.87" y2="426.79" stroke="#777" stroke-width="0.35"/>
<text x="380.81" y="427.28" font-size="2.4" fill="#555" stroke="#777" stroke-width="0.15" text-anchor="end" dominant-baseline="central" transform="rotate(277.38 380.81 427.28)">30%</text>
<line x1="378.25" y1="424.08" x2="377.89" y2="426.35" stroke="#777" stroke-width="0.35"/>
<text x="377.81" y="426.85" font-size="2.4" fill="#555" stroke="#777" stroke-width="0.15" text-anchor="end" dominant-baseline="central" transform="rotate(279.14 377.81 426.85)">40%</text>
<line x1="375.35" y1="423.57" x2="374.91" y2="425.83" stroke="#777" stroke-width="0.35"/>
<text x="374.82" y="426.32" font-size="2.4" fill="#555" stroke="#777" stroke-width="0.15" text-anchor="end" dominant-baseline="central" transform="rotate(280.9 374.82 426.32)">50%</text>
<line x1="372.46" y1="422.97" x2="371.96" y2="425.21" stroke="#777" stroke-width="0.35"/>
<text x="371.85" y="425.7" font-size="2.4" fill="#555" stroke="#777" stroke-width="0.15" text-anchor="end" dominant-baseline="central" transform="rotate(282.66 371.85 425.7)">60%</text>
<line x1="369.59" y1="422.28" x2="369.02" y2="424.5" stroke="#777" stroke-width="0.35"/>
<text x="368.9" y="424.99" font-size="2.4" fill="#555" stroke="#777" stroke-width="0.15" text-anchor="end" dominant-baseline="central" transform="rotate(284.42 368.9 424.99)">70%</text>
<line x1="366.75" y1="421.5" x2="366.11" y2="423.71" stroke="#777" stroke-width="0.35"/>
<text x="365.97" y="424.19" font-size="2.4" fill="#555" stroke="#777" stroke-width="0.15" text-anchor="end" dominant-baseline="central" transform="rotate(286.18 365.97 424.19)">80%</text>
<line x1="363.93" y1="420.63" x2="363.22" y2="422.82" stroke="#777" stroke-width="0.35"/>
<text x="363.07" y="423.3" font-size="2.4" fill="#555" stroke="#777" stroke-width="0.15" text-anchor="end" dominant-baseline="central" transform="rotate(287.94 363.07 423.3)">90%</text>
<line x1="361.14" y1="419.68" x2="360.36" y2="421.85" stroke="#777" stroke-width="0.35"/>
<text x="360.19" y="422.32" font-size="2.4" fill="#555" stroke="#777" stroke-width="0.15" text-anchor="end" dominant-baseline="central" transform="rotate(289.7 360.19 422.32)">100%</text>
<line x1="358.94" y1="418.86" x2="358.11" y2="421.01" stroke="#777" stroke-width="0.35"/>
<text x="357.93" y="421.48" font-size="2.4" fill="#555" stroke="#777" stroke-width="0.15" text-anchor="end" dominant-baseline="central" transform="rotate(291.1 357.93 421.48)">0%</text>
<line x1="354.68" y1="417.1" x2="353.75" y2="419.21" stroke="#777" stroke-width="0.35"/>
<text x="353.55" y="419.66" font-size="2.4" fill="#555" stroke="#777" stroke-width="0.15" text-anchor="end" dominant-baseline="central" transform="rotate(293.85 353.55 419.66)">10%</text>
<line x1="350.52" y1="415.14" x2="349.49" y2="417.2" stroke="#777" stroke-width="0.35"/>
<text x="349.26" y="417.64" font-size="2.4" fill="#555" stroke="#777" stroke-width="0.15" text-anchor="end" dominant-baseline="central" transform="rotate(296.6 349.26 417.64)">20%</text>
<line x1="346.45" y1="412.98" x2="345.32" y2="414.98" stroke="#777" stroke-width="0.35"/>
<text x="345.07" y="415.42" font-size="2.4" fill="#555" stroke="#777" stroke-width="0.15" text-anchor="end" dominant-baseline="central" transform="rotate(299.35 345.07 415.42)">30%</text>
<line x1="342.49" y1="410.62" x2="341.26" y2="412.57" stroke="#777" stroke-width="0.35"/>
<text x="341" y="413" font-size="2.4" fill="#555" stroke="#777" stroke-width="0.15" text-anchor="end" dominant-baseline="central" transform="rotate(302.1 341 413)">40%</text>
<line x1="338.64" y1="408.08" x2="337.33" y2="409.97" stroke="#777" stroke-width="0.35"/>
<text x="337.04" y="410.38" font-size="2.4" fill="#555" stroke="#777" stroke-width="0.15" text-anchor="end" dominant-baseline="central" transform="rotate(304.85 337.04 410.38)">50%</text>
<line x1="334.93" y1="405.36" x2="333.52" y2="407.18" stroke="#777" stroke-width="0.35"/>
<text x="333.22" y="407.58" font-size="2.4" fill="#555" stroke="#777" stroke-width="0.15" text-anchor="end" dominant-baseline="central" transform="rotate(307.6 333.22 407.58)">60%</text>
<line x1="331.34" y1="402.46" x2="329.86" y2="404.21" stroke="#777" stroke-width="0.35"/>
<text x="329.53" y="404.6" font-size="2.4" fill="#555" stroke="#777" stroke-width="0.15" text-anchor="end" dominant-baseline="central" transform="rotate(310.35 329.53 404.6)">70%</text>
<line x1="327.91" y1="399.4" x2="326.33" y2="401.07" stroke="#777" stroke-width="0.35"/>
<text x="325.99" y="401.44" font-size="2.4" fill="#555" stroke="#777" stroke-width="0.15" text-anchor="end" dominant-baseline="central" transform="rotate(313.1 325.99 401.44)">80%</text>
<line x1="324.62" y1="396.17" x2="322.97" y2="397.77" stroke="#777" stroke-width="0.35"/>
<text x="322.61" y="398.12" font-size="2.4" fill="#555" stroke="#777" stroke-width="0.15" text-anchor="end" dominant-baseline="central" transform="rotate(315.85 322.61 398.12)">90%</text>
<line x1="321.49" y1="392.79" x2="319.76" y2="394.31" stroke="#777" stroke-width="0.35"/>
<text x="319.39" y="394.64" font-size="2.4" fill="#555" stroke="#777" stroke-width="0.15" text-anchor="end" dominant-baseline="central" transform="rotate(318.6 319.39 394.64)">100%</text>
<line x1="320.07" y1="391.14" x2="318.31" y2="392.62" stroke="#777" stroke-width="0.35"/>
<text x="317.93" y="392.94" font-size="2.4" fill="#555" stroke="#777" stroke-width="0.15" text-anchor="end" dominant-baseline="central" transform="rotate(319.9 317.93 392.94)">0%</text>
<line x1="317.93" y1="388.51" x2="316.12" y2="389.93" stroke="#777" stroke-width="0.35"/>
<text x="315.73" y="390.24" font-size="2.4" fill="#555" stroke="#777" stroke-width="0.15" text-anchor="end" dominant-baseline="central" transform="rotate(321.92 315.73 390.24)">20%</text>
<line x1="315.89" y1="385.81" x2="314.03" y2="387.16" stroke="#777" stroke-width="0.35"/>
<text x="313.63" y="387.46" font-size="2.4" fill="#555" stroke="#777" stroke-width="0.15" text-anchor="end" dominant-baseline="central" transform="rotate(323.94 313.63 387.46)">40%</text>
<line x1="313.95" y1="383.04" x2="312.04" y2="384.33" stroke="#777" stroke-width="0.35"/>
<text x="311.63" y="384.61" font-size="2.4" fill="#555" stroke="#777" stroke-width="0.15" text-anchor="end" dominant-baseline="central" transform="rotate(325.96 311.63 384.61)">60%</text>
<line x1="312.11" y1="380.2" x2="310.16" y2="381.42" stroke="#777" stroke-width="0.35"/>
<text x="309.73" y="381.69" font-size="2.4" fill="#555" stroke="#777" stroke-width="0.15" text-anchor="end" dominant-baseline="central" transform="rotate(327.98 309.73 381.69)">80%</text>
<line x1="310.36" y1="377.3" x2="308.37" y2="378.45" stroke="#777" stroke-width="0.35"/>
<text x="307.94" y="378.7" font-size="2.4" fill="#555" stroke="#777" stroke-width="0.15" text-anchor="end" dominant-baseline="central" transform="rotate(330 307.94 378.7)">100%</text>
<line x1="309.54" y1="375.84" x2="307.52" y2="376.96" stroke="#777" stroke-width="0.35"/>
<text x="307.09" y="377.2" font-size="2.4" fill="#555" stroke="#777" stroke-width="0.15" text-anchor="end" dominant-baseline="central" transform="rotate(331 307.09 377.2)">0%</text>
<line x1="308.12" y1="373.18" x2="306.07" y2="374.23" stroke="#777" stroke-width="0.35"/>
<text x="305.63" y="374.46" font-size="2.4" fill="#555" stroke="#777" stroke-width="0.15" text-anchor="end" dominant-baseline="central" transform="rotate(332.8 305.63 374.46)">20%</text>
<line x1="306.78" y1="370.48" x2="304.7" y2="371.46" stroke="#777" stroke-width="0.35"/>
<text x="304.25" y="371.68" font-size="2.4" fill="#555" stroke="#777" stroke-width="0.15" text-anchor="end" dominant-baseline="central" transform="rotate(334.6 304.25 371.68)">40%</text>
<line x1="305.53" y1="367.73" x2="303.42" y2="368.65" stroke="#777" stroke-width="0.35"/>
<text x="302.96" y="368.85" font-size="2.4" fill="#555" stroke="#777" stroke-width="0.15" text-anchor="end" dominant-baseline="central" transform="rotate(336.4 302.96 368.85)">60%</text>
<line x1="304.37" y1="364.95" x2="302.23" y2="365.81" stroke="#777" stroke-width="0.35"/>
<text x="301.77" y="365.99" font-size="2.4" fill="#555" stroke="#777" stroke-width="0.15" text-anchor="end" dominant-baseline="central" transform="rotate(338.2 301.77 365.99)">80%</text>
<line x1="303.29" y1="362.13" x2="301.13" y2="362.92" stroke="#777" stroke-width="0.35"/>
<text x="300.66" y="363.09" font-size="2.4" fill="#555" stroke="#777" stroke-width="0.15" text-anchor="end" dominant-baseline="central" transform="rotate(340 300.66 363.09)">100%</text>
<line x1="302.36" y1="359.44" x2="300.17" y2="360.17" stroke="#777" stroke-width="0.35"/>
<text x="299.7" y="360.32" font-size="2.4" fill="#555" stroke="#777" stroke-width="0.15" text-anchor="end" dominant-baseline="central" transform="rotate(341.7 299.7 360.32)">0%</text>
<line x1="300.6" y1="353.51" x2="298.38" y2="354.1" stroke="#777" stroke-width="0.35"/>
<text x="297.89" y="354.22" font-size="2.4" fill="#555" stroke="#777" stroke-width="0.15" text-anchor="end" dominant-baseline="central" transform="rotate(345.39 297.89 354.22)">10%</text>
<line x1="299.24" y1="347.49" x2="296.98" y2="347.92" stroke="#777" stroke-width="0.35"/>
<text x="296.49" y="348.02" font-size="2.4" fill="#555" stroke="#777" stroke-width="0.15" text-anchor="end" dominant-baseline="central" transform="rotate(349.08 296.49 348.02)">20%</text>
<line x1="298.26" y1="341.38" x2="295.98" y2="341.67" stroke="#777" stroke-width="0.35"/>
<text x="295.49" y="341.73" font-size="2.4" fill="#555" stroke="#777" stroke-width="0.15" text-anchor="end" dominant-baseline="central" transform="rotate(352.77 295.49 341.73)">30%</text>
<line x1="297.68" y1="335.23" x2="295.39" y2="335.37" stroke="#777" stroke-width="0.35"/>
<text x="294.89" y="335.4" font-size="2.4" fill="#555" stroke="#777" stroke-width="0.15" text-anchor="end" dominant-baseline="central" transform="rotate(356.46 294.89 335.4)">40%</text>
<line x1="297.5" y1="329.05" x2="295.2" y2="329.04" stroke="#777" stroke-width="0.35"/>
<text x="294.7" y="329.04" font-size="2.4" fill="#555" stroke="#777" stroke-width="0.15" text-anchor="end" dominant-baseline="central" transform="rotate(360.15 294.7 329.04)">50%</text>
<line x1="297.72" y1="322.87" x2="295.42" y2="322.72" stroke="#777" stroke-width="0.35"/>
<text x="294.92" y="322.68" font-size="2.4" fill="#555" stroke="#777" stroke-width="0.15" text-anchor="end" dominant-baseline="central" transform="rotate(363.84 294.92 322.68)">60%</text>
<line x1="298.33" y1="316.72" x2="296.05" y2="316.42" stroke="#777" stroke-width="0.35"/>
<text x="295.55" y="316.35" font-size="2.4" fill="#555" stroke="#777" stroke-width="0.15" text-anchor="end" dominant-baseline="central" transform="rotate(367.53 295.55 316.35)">70%</text>
<line x1="299.33" y1="310.62" x2="297.08" y2="310.17" stroke="#777" stroke-width="0.35"/>
<text x="296.59" y="310.08" font-size="2.4" fill="#555" stroke="#777" stroke-width="0.15" text-anchor="end" dominant-baseline="central" transform="rotate(371.22 296.59 310.08)">80%</text>
<line x1="300.73" y1="304.6" x2="298.51" y2="304.01" stroke="#777" stroke-width="0.35"/>
<text x="298.03" y="303.88" font-size="2.4" fill="#555" stroke="#777" stroke-width="0.15" text-anchor="end" dominant-baseline="central" transform="rotate(374.91 298.03 303.88)">90%</text>
<line x1="302.51" y1="298.68" x2="300.33" y2="297.95" stroke="#777" stroke-width="0.35"/>
<text x="299.86" y="297.79" font-size="2.4" fill="#555" stroke="#777" stroke-width="0.15" text-anchor="end" dominant-baseline="central" transform="rotate(378.6 299.86 297.79)">100%</text>
<line x1="356.3" y1="240.8" x2="355.41" y2="238.68" stroke="#777" stroke-width="0.35"/>
<text x="355.21" y="238.22" font-size="2.4" fill="#555" stroke="#777" stroke-width="0.15" text-anchor="end" dominant-baseline="central" transform="rotate(427.2 355.21 238.22)">0%</text>
<line x1="359.61" y1="239.48" x2="358.8" y2="237.33" stroke="#777" stroke-width="0.35"/>
<text x="358.63" y="236.86" font-size="2.4" fill="#555" stroke="#777" stroke-width="0.15" text-anchor="end" dominant-baseline="central" transform="rotate(429.33 358.63 236.86)">10%</text>
<line x1="362.98" y1="238.28" x2="362.24" y2="236.1" stroke="#777" stroke-width="0.35"/>
<text x="362.08" y="235.63" font-size="2.4" fill="#555" stroke="#777" stroke-width="0.15" text-anchor="end" dominant-baseline="central" transform="rotate(431.46 362.08 235.63)">20%</text>
<line x1="366.38" y1="237.21" x2="365.73" y2="235" stroke="#777" stroke-width="0.35"/>
<text x="365.59" y="234.52" font-size="2.4" fill="#555" stroke="#777" stroke-width="0.15" text-anchor="end" dominant-baseline="central" transform="rotate(433.59 365.59 234.52)">30%</text>
<line x1="369.82" y1="236.27" x2="369.25" y2="234.04" stroke="#777" stroke-width="0.35"/>
<text x="369.13" y="233.55" font-size="2.4" fill="#555" stroke="#777" stroke-width="0.15" text-anchor="end" dominant-baseline="central" transform="rotate(435.72 369.13 233.55)">40%</text>
<line x1="373.29" y1="235.45" x2="372.81" y2="233.2" stroke="#777" stroke-width="0.35"/>
<text x="372.71" y="232.71" font-size="2.4" fill="#555" stroke="#777" stroke-width="0.15" text-anchor="end" dominant-baseline="central" transform="rotate(437.85 372.71 232.71)">50%</text>
<line x1="376.8" y1="234.76" x2="376.4" y2="232.5" stroke="#777" stroke-width="0.35"/>
<text x="376.31" y="232.01" font-size="2.4" fill="#555" stroke="#777" stroke-width="0.15" text-anchor="end" dominant-baseline="central" transform="rotate(439.98 376.31 232.01)">60%</text>
<line x1="380.32" y1="234.21" x2="380.01" y2="231.93" stroke="#777" stroke-width="0.35"/>
<text x="379.94" y="231.44" font-size="2.4" fill="#555" stroke="#777" stroke-width="0.15" text-anchor="end" dominant-baseline="central" transform="rotate(442.11 379.94 231.44)">70%</text>
<line x1="383.87" y1="233.78" x2="383.63" y2="231.5" stroke="#777" stroke-width="0.35"/>
<text x="383.58" y="231" font-size="2.4" fill="#555" stroke="#777" stroke-width="0.15" text-anchor="end" dominant-baseline="central" transform="rotate(444.24 383.58 231)">80%</text>
<line x1="387.42" y1="233.49" x2="387.28" y2="231.2" stroke="#777" stroke-width="0.35"/>
<text x="387.24" y="230.7" font-size="2.4" fill="#555" stroke="#777" stroke-width="0.15" text-anchor="end" dominant-baseline="central" transform="rotate(446.37 387.24 230.7)">90%</text>
<line x1="390.99" y1="233.33" x2="390.93" y2="231.03" stroke="#777" stroke-width="0.35"/>
<text x="390.91" y="230.53" font-size="2.4" fill="#555" stroke="#777" stroke-width="0.15" text-anchor="end" dominant-baseline="central" transform="rotate(448.5 390.91 230.53)">100%</text>
<path d="M427.38,418.48 A95.4,95.4 0 0 1 426.6,418.77 L426.18,417.65 A94.2,94.2 0 0 0 426.95,417.36 Z" fill="#999"/>
<path d="M424.87,419.39 A95.4,95.4 0 0 1 424.09,419.66 L423.7,418.53 A94.2,94.2 0 0 0 424.48,418.26 Z" fill="#999"/>
<path d="M422.35,420.23 A95.4,95.4 0 0 1 421.55,420.48 L421.2,419.34 A94.2,94.2 0 0 0 421.98,419.09 Z" fill="#999"/>
<path d="M419.8,421 A95.4,95.4 0 0 1 418.99,421.23 L418.67,420.07 A94.2,94.2 0 0 0 419.47,419.85 Z" fill="#999"/>
<path d="M417.23,421.7 A95.4,95.4 0 0 1 416.42,421.91 L416.13,420.74 A94.2,94.2 0 0 0 416.93,420.54 Z" fill="#999"/>
<path d="M414.64,422.33 A95.4,95.4 0 0 1 413.82,422.51 L413.57,421.34 A94.2,94.2 0 0 0 414.37,421.16 Z" fill="#999"/>
<line x1="391.55" y1="236.32" x2="391.26" y2="222.32" stroke="#8a8a8a" stroke-width="0.6"/>
<line x1="408.58" y1="413.97" x2="411.56" y2="430.7" stroke="#999" stroke-width="0.6"/>
<text x="369" y="227.2" font-size="6.6" text-anchor="middle" fill="#222" stroke="#222" stroke-width="0.1">ATM</text>
<text x="426.5" y="229.1" font-size="6.6" text-anchor="middle" fill="#222" stroke="#222" stroke-width="0.1">+12</text>
<text x="473" y="249.1" font-size="6.6" text-anchor="middle" fill="#222" stroke="#222" stroke-width="0.1">del(17p)</text>
<text x="500.8" y="287.4" font-size="6.6" text-anchor="middle" fill="#222" stroke="#222" stroke-width="0.1">del(11q)</text>
<text x="493.9" y="393.5" font-size="6.6" text-anchor="middle" fill="#222" stroke="#222" stroke-width="0.1">del(13q)</text>
<text x="404.7" y="440.5" font-size="6.6" text-anchor="middle" fill="#222" stroke="#222" stroke-width="0.1">XPO1</text>
<text x="370" y="438.3" font-size="6.6" text-anchor="middle" fill="#222" stroke="#222" stroke-width="0.1">TP53</text>
<text x="323.9" y="422" font-size="6.6" text-anchor="middle" fill="#222" stroke="#222" stroke-width="0.1">SF3B1</text>
<text x="298" y="394.3" font-size="6.6" text-anchor="middle" fill="#222" stroke="#222" stroke-width="0.1">RPS15</text>
<text x="288.7" y="376.5" font-size="6.6" text-anchor="middle" fill="#222" stroke="#222" stroke-width="0.1">POT1</text>
<text x="276" y="330.2" font-size="6.6" text-anchor="middle" fill="#222" stroke="#222" stroke-width="0.1">NOTCH1</text>
<text x="290.4" y="289.4" font-size="6.6" text-anchor="middle" fill="#222" stroke="#222" stroke-width="0.1">NFKBIE</text>
<text x="295.1" y="278.7" font-size="6.6" text-anchor="middle" fill="#222" stroke="#222" stroke-width="0.1">MYD88</text>
<text x="303.1" y="269.4" font-size="6.6" text-anchor="middle" fill="#222" stroke="#222" stroke-width="0.1">FBXW7</text>
<text x="311.4" y="259.1" font-size="6.6" text-anchor="middle" fill="#222" stroke="#222" stroke-width="0.1">EGR2</text>
<text x="323.9" y="249.4" font-size="6.6" text-anchor="middle" fill="#222" stroke="#222" stroke-width="0.1">BRAF</text>
<text x="337.2" y="238.9" font-size="6.6" text-anchor="middle" fill="#222" stroke="#222" stroke-width="0.1">BIRC3</text>
<rect x="0.5" y="0.5" width="519" height="459" fill="none" stroke="#000" stroke-width="1.2"/>
</svg>
</body></html>
